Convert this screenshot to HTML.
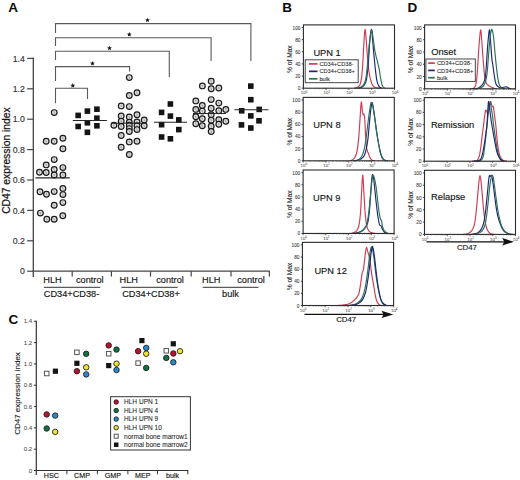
<!DOCTYPE html>
<html><head><meta charset="utf-8"><style>
html,body{margin:0;padding:0;background:#fff;}
svg{display:block;}
text{font-family:"Liberation Sans", sans-serif;}
</style></head><body>
<svg width="520" height="480" viewBox="0 0 520 480">
<rect width="520" height="480" fill="#fff"/>
<text x="8.30" y="12.10" font-size="13.5" text-anchor="start" fill="#0a0a0a" stroke="#0a0a0a" stroke-width="0" font-weight="bold" >A</text>
<line x1="33.30" y1="57.60" x2="33.30" y2="277.00" stroke="#444" stroke-width="1.3"/>
<line x1="32.65" y1="271.20" x2="269.90" y2="271.20" stroke="#444" stroke-width="1.3"/>
<line x1="27.20" y1="271.20" x2="33.30" y2="271.20" stroke="#444" stroke-width="1.2"/>
<text x="24.80" y="274.30" font-size="8.7" text-anchor="end" fill="#333" stroke="#333" stroke-width="0.15" font-weight="normal" >0</text>
<line x1="27.20" y1="240.80" x2="33.30" y2="240.80" stroke="#444" stroke-width="1.2"/>
<text x="24.80" y="243.90" font-size="8.7" text-anchor="end" fill="#333" stroke="#333" stroke-width="0.15" font-weight="normal" >0.2</text>
<line x1="27.20" y1="210.40" x2="33.30" y2="210.40" stroke="#444" stroke-width="1.2"/>
<text x="24.80" y="213.50" font-size="8.7" text-anchor="end" fill="#333" stroke="#333" stroke-width="0.15" font-weight="normal" >0.4</text>
<line x1="27.20" y1="180.00" x2="33.30" y2="180.00" stroke="#444" stroke-width="1.2"/>
<text x="24.80" y="183.10" font-size="8.7" text-anchor="end" fill="#333" stroke="#333" stroke-width="0.15" font-weight="normal" >0.6</text>
<line x1="27.20" y1="149.60" x2="33.30" y2="149.60" stroke="#444" stroke-width="1.2"/>
<text x="24.80" y="152.70" font-size="8.7" text-anchor="end" fill="#333" stroke="#333" stroke-width="0.15" font-weight="normal" >0.8</text>
<line x1="27.20" y1="119.20" x2="33.30" y2="119.20" stroke="#444" stroke-width="1.2"/>
<text x="24.80" y="122.30" font-size="8.7" text-anchor="end" fill="#333" stroke="#333" stroke-width="0.15" font-weight="normal" >1.0</text>
<line x1="27.20" y1="88.80" x2="33.30" y2="88.80" stroke="#444" stroke-width="1.2"/>
<text x="24.80" y="91.90" font-size="8.7" text-anchor="end" fill="#333" stroke="#333" stroke-width="0.15" font-weight="normal" >1.2</text>
<line x1="27.20" y1="58.40" x2="33.30" y2="58.40" stroke="#444" stroke-width="1.2"/>
<text x="24.80" y="61.50" font-size="8.7" text-anchor="end" fill="#333" stroke="#333" stroke-width="0.15" font-weight="normal" >1.4</text>
<line x1="72.20" y1="271.20" x2="72.20" y2="276.60" stroke="#444" stroke-width="1.2"/>
<line x1="111.40" y1="271.20" x2="111.40" y2="276.60" stroke="#444" stroke-width="1.2"/>
<line x1="150.50" y1="271.20" x2="150.50" y2="276.60" stroke="#444" stroke-width="1.2"/>
<line x1="191.20" y1="271.20" x2="191.20" y2="276.60" stroke="#444" stroke-width="1.2"/>
<line x1="231.00" y1="271.20" x2="231.00" y2="276.60" stroke="#444" stroke-width="1.2"/>
<line x1="269.40" y1="271.20" x2="269.40" y2="276.60" stroke="#444" stroke-width="1.2"/>
<text x="0" y="0" font-size="10.3" text-anchor="middle" fill="#141414" stroke="#141414" stroke-width="0.22" transform="translate(9.9,160.6) rotate(-90)">CD47 expression index</text>
<text x="52.50" y="282.60" font-size="9.2" text-anchor="middle" fill="#141414" stroke="#141414" stroke-width="0.15" font-weight="normal" >HLH</text>
<text x="89.80" y="282.60" font-size="9.2" text-anchor="middle" fill="#141414" stroke="#141414" stroke-width="0.15" font-weight="normal" >control</text>
<text x="128.70" y="282.60" font-size="9.2" text-anchor="middle" fill="#141414" stroke="#141414" stroke-width="0.15" font-weight="normal" >HLH</text>
<text x="170.00" y="282.60" font-size="9.2" text-anchor="middle" fill="#141414" stroke="#141414" stroke-width="0.15" font-weight="normal" >control</text>
<text x="211.30" y="282.60" font-size="9.2" text-anchor="middle" fill="#141414" stroke="#141414" stroke-width="0.15" font-weight="normal" >HLH</text>
<text x="251.00" y="282.60" font-size="9.2" text-anchor="middle" fill="#141414" stroke="#141414" stroke-width="0.15" font-weight="normal" >control</text>
<line x1="43.80" y1="287.30" x2="100.20" y2="287.30" stroke="#333" stroke-width="1.0"/>
<text x="71.50" y="296.80" font-size="9.2" text-anchor="middle" fill="#141414" stroke="#141414" stroke-width="0.15" font-weight="normal" >CD34+CD38-</text>
<line x1="121.40" y1="287.30" x2="177.70" y2="287.30" stroke="#333" stroke-width="1.0"/>
<text x="151.00" y="296.80" font-size="9.2" text-anchor="middle" fill="#141414" stroke="#141414" stroke-width="0.15" font-weight="normal" >CD34+CD38+</text>
<line x1="202.70" y1="287.30" x2="258.50" y2="287.30" stroke="#333" stroke-width="1.0"/>
<text x="230.50" y="296.80" font-size="9.2" text-anchor="middle" fill="#141414" stroke="#141414" stroke-width="0.15" font-weight="normal" >bulk</text>
<polyline points="55.50,33.00 55.50,23.60 250.90,23.60 250.90,61.10" fill="none" stroke="#5a5a5a" stroke-width="1.1"/>
<polygon points="147.50,17.65 148.17,19.27 149.93,19.41 148.59,20.55 149.00,22.26 147.50,21.35 146.00,22.26 146.41,20.55 145.07,19.41 146.83,19.27" fill="#1a1a1a"/>
<polyline points="55.50,46.00 55.50,37.70 211.10,37.70 211.10,61.10" fill="none" stroke="#5a5a5a" stroke-width="1.1"/>
<polygon points="129.30,31.95 129.97,33.57 131.73,33.71 130.39,34.85 130.80,36.56 129.30,35.65 127.80,36.56 128.21,34.85 126.87,33.71 128.63,33.57" fill="#1a1a1a"/>
<polyline points="55.50,60.00 55.50,51.30 169.30,51.30 169.30,77.00" fill="none" stroke="#5a5a5a" stroke-width="1.1"/>
<polygon points="109.50,45.65 110.17,47.27 111.93,47.41 110.59,48.55 111.00,50.26 109.50,49.35 108.00,50.26 108.41,48.55 107.07,47.41 108.83,47.27" fill="#1a1a1a"/>
<polyline points="55.50,81.00 55.50,66.60 129.60,66.60 129.60,71.50" fill="none" stroke="#5a5a5a" stroke-width="1.1"/>
<polygon points="92.50,60.95 93.17,62.57 94.93,62.71 93.59,63.85 94.00,65.56 92.50,64.65 91.00,65.56 91.41,63.85 90.07,62.71 91.83,62.57" fill="#1a1a1a"/>
<polyline points="55.50,103.30 55.50,88.30 87.50,88.30 87.50,99.00" fill="none" stroke="#5a5a5a" stroke-width="1.1"/>
<polygon points="72.80,83.05 73.47,84.67 75.23,84.81 73.89,85.95 74.30,87.66 72.80,86.75 71.30,87.66 71.71,85.95 70.37,84.81 72.13,84.67" fill="#1a1a1a"/>
<circle cx="54.20" cy="112.60" r="2.85" fill="#dcdcdc" stroke="#1a1a1a" stroke-width="1.2"/>
<line x1="53.90" y1="111.50" x2="54.50" y2="113.70" stroke="#8a8a8a" stroke-width="0.8"/>
<circle cx="46.20" cy="141.30" r="2.85" fill="#dcdcdc" stroke="#1a1a1a" stroke-width="1.2"/>
<line x1="45.90" y1="140.20" x2="46.50" y2="142.40" stroke="#8a8a8a" stroke-width="0.8"/>
<circle cx="54.20" cy="141.30" r="2.85" fill="#dcdcdc" stroke="#1a1a1a" stroke-width="1.2"/>
<line x1="53.90" y1="140.20" x2="54.50" y2="142.40" stroke="#8a8a8a" stroke-width="0.8"/>
<circle cx="62.90" cy="138.30" r="2.85" fill="#dcdcdc" stroke="#1a1a1a" stroke-width="1.2"/>
<line x1="62.60" y1="137.20" x2="63.20" y2="139.40" stroke="#8a8a8a" stroke-width="0.8"/>
<circle cx="62.90" cy="148.70" r="2.85" fill="#dcdcdc" stroke="#1a1a1a" stroke-width="1.2"/>
<line x1="62.60" y1="147.60" x2="63.20" y2="149.80" stroke="#8a8a8a" stroke-width="0.8"/>
<circle cx="54.20" cy="159.60" r="2.85" fill="#dcdcdc" stroke="#1a1a1a" stroke-width="1.2"/>
<line x1="53.90" y1="158.50" x2="54.50" y2="160.70" stroke="#8a8a8a" stroke-width="0.8"/>
<circle cx="46.20" cy="164.90" r="2.85" fill="#dcdcdc" stroke="#1a1a1a" stroke-width="1.2"/>
<line x1="45.90" y1="163.80" x2="46.50" y2="166.00" stroke="#8a8a8a" stroke-width="0.8"/>
<circle cx="39.50" cy="172.30" r="2.85" fill="#dcdcdc" stroke="#1a1a1a" stroke-width="1.2"/>
<line x1="39.20" y1="171.20" x2="39.80" y2="173.40" stroke="#8a8a8a" stroke-width="0.8"/>
<circle cx="46.20" cy="172.50" r="2.85" fill="#dcdcdc" stroke="#1a1a1a" stroke-width="1.2"/>
<line x1="45.90" y1="171.40" x2="46.50" y2="173.60" stroke="#8a8a8a" stroke-width="0.8"/>
<circle cx="54.20" cy="169.50" r="2.85" fill="#dcdcdc" stroke="#1a1a1a" stroke-width="1.2"/>
<line x1="53.90" y1="168.40" x2="54.50" y2="170.60" stroke="#8a8a8a" stroke-width="0.8"/>
<circle cx="62.90" cy="167.60" r="2.85" fill="#dcdcdc" stroke="#1a1a1a" stroke-width="1.2"/>
<line x1="62.60" y1="166.50" x2="63.20" y2="168.70" stroke="#8a8a8a" stroke-width="0.8"/>
<circle cx="54.20" cy="175.00" r="2.85" fill="#dcdcdc" stroke="#1a1a1a" stroke-width="1.2"/>
<line x1="53.90" y1="173.90" x2="54.50" y2="176.10" stroke="#8a8a8a" stroke-width="0.8"/>
<circle cx="62.90" cy="175.00" r="2.85" fill="#dcdcdc" stroke="#1a1a1a" stroke-width="1.2"/>
<line x1="62.60" y1="173.90" x2="63.20" y2="176.10" stroke="#8a8a8a" stroke-width="0.8"/>
<circle cx="40.00" cy="191.80" r="2.85" fill="#dcdcdc" stroke="#1a1a1a" stroke-width="1.2"/>
<line x1="39.70" y1="190.70" x2="40.30" y2="192.90" stroke="#8a8a8a" stroke-width="0.8"/>
<circle cx="46.50" cy="194.30" r="2.85" fill="#dcdcdc" stroke="#1a1a1a" stroke-width="1.2"/>
<line x1="46.20" y1="193.20" x2="46.80" y2="195.40" stroke="#8a8a8a" stroke-width="0.8"/>
<circle cx="54.20" cy="191.60" r="2.85" fill="#dcdcdc" stroke="#1a1a1a" stroke-width="1.2"/>
<line x1="53.90" y1="190.50" x2="54.50" y2="192.70" stroke="#8a8a8a" stroke-width="0.8"/>
<circle cx="62.90" cy="188.40" r="2.85" fill="#dcdcdc" stroke="#1a1a1a" stroke-width="1.2"/>
<line x1="62.60" y1="187.30" x2="63.20" y2="189.50" stroke="#8a8a8a" stroke-width="0.8"/>
<circle cx="62.90" cy="194.60" r="2.85" fill="#dcdcdc" stroke="#1a1a1a" stroke-width="1.2"/>
<line x1="62.60" y1="193.50" x2="63.20" y2="195.70" stroke="#8a8a8a" stroke-width="0.8"/>
<circle cx="54.20" cy="205.30" r="2.85" fill="#dcdcdc" stroke="#1a1a1a" stroke-width="1.2"/>
<line x1="53.90" y1="204.20" x2="54.50" y2="206.40" stroke="#8a8a8a" stroke-width="0.8"/>
<circle cx="62.90" cy="202.60" r="2.85" fill="#dcdcdc" stroke="#1a1a1a" stroke-width="1.2"/>
<line x1="62.60" y1="201.50" x2="63.20" y2="203.70" stroke="#8a8a8a" stroke-width="0.8"/>
<circle cx="40.40" cy="213.10" r="2.85" fill="#dcdcdc" stroke="#1a1a1a" stroke-width="1.2"/>
<line x1="40.10" y1="212.00" x2="40.70" y2="214.20" stroke="#8a8a8a" stroke-width="0.8"/>
<circle cx="46.80" cy="219.30" r="2.85" fill="#dcdcdc" stroke="#1a1a1a" stroke-width="1.2"/>
<line x1="46.50" y1="218.20" x2="47.10" y2="220.40" stroke="#8a8a8a" stroke-width="0.8"/>
<circle cx="54.20" cy="219.30" r="2.85" fill="#dcdcdc" stroke="#1a1a1a" stroke-width="1.2"/>
<line x1="53.90" y1="218.20" x2="54.50" y2="220.40" stroke="#8a8a8a" stroke-width="0.8"/>
<circle cx="62.80" cy="215.80" r="2.85" fill="#dcdcdc" stroke="#1a1a1a" stroke-width="1.2"/>
<line x1="62.50" y1="214.70" x2="63.10" y2="216.90" stroke="#8a8a8a" stroke-width="0.8"/>
<circle cx="129.30" cy="77.60" r="2.85" fill="#dcdcdc" stroke="#1a1a1a" stroke-width="1.2"/>
<line x1="129.00" y1="76.50" x2="129.60" y2="78.70" stroke="#8a8a8a" stroke-width="0.8"/>
<circle cx="129.30" cy="95.50" r="2.85" fill="#dcdcdc" stroke="#1a1a1a" stroke-width="1.2"/>
<line x1="129.00" y1="94.40" x2="129.60" y2="96.60" stroke="#8a8a8a" stroke-width="0.8"/>
<circle cx="137.00" cy="92.70" r="2.85" fill="#dcdcdc" stroke="#1a1a1a" stroke-width="1.2"/>
<line x1="136.70" y1="91.60" x2="137.30" y2="93.80" stroke="#8a8a8a" stroke-width="0.8"/>
<circle cx="121.20" cy="105.90" r="2.85" fill="#dcdcdc" stroke="#1a1a1a" stroke-width="1.2"/>
<line x1="120.90" y1="104.80" x2="121.50" y2="107.00" stroke="#8a8a8a" stroke-width="0.8"/>
<circle cx="129.30" cy="106.60" r="2.85" fill="#dcdcdc" stroke="#1a1a1a" stroke-width="1.2"/>
<line x1="129.00" y1="105.50" x2="129.60" y2="107.70" stroke="#8a8a8a" stroke-width="0.8"/>
<circle cx="121.20" cy="116.00" r="2.85" fill="#dcdcdc" stroke="#1a1a1a" stroke-width="1.2"/>
<line x1="120.90" y1="114.90" x2="121.50" y2="117.10" stroke="#8a8a8a" stroke-width="0.8"/>
<circle cx="129.30" cy="117.00" r="2.85" fill="#dcdcdc" stroke="#1a1a1a" stroke-width="1.2"/>
<line x1="129.00" y1="115.90" x2="129.60" y2="118.10" stroke="#8a8a8a" stroke-width="0.8"/>
<circle cx="137.00" cy="114.80" r="2.85" fill="#dcdcdc" stroke="#1a1a1a" stroke-width="1.2"/>
<line x1="136.70" y1="113.70" x2="137.30" y2="115.90" stroke="#8a8a8a" stroke-width="0.8"/>
<circle cx="144.20" cy="120.00" r="2.85" fill="#dcdcdc" stroke="#1a1a1a" stroke-width="1.2"/>
<line x1="143.90" y1="118.90" x2="144.50" y2="121.10" stroke="#8a8a8a" stroke-width="0.8"/>
<circle cx="121.20" cy="121.20" r="2.85" fill="#dcdcdc" stroke="#1a1a1a" stroke-width="1.2"/>
<line x1="120.90" y1="120.10" x2="121.50" y2="122.30" stroke="#8a8a8a" stroke-width="0.8"/>
<circle cx="129.30" cy="122.20" r="2.85" fill="#dcdcdc" stroke="#1a1a1a" stroke-width="1.2"/>
<line x1="129.00" y1="121.10" x2="129.60" y2="123.30" stroke="#8a8a8a" stroke-width="0.8"/>
<circle cx="137.00" cy="121.90" r="2.85" fill="#dcdcdc" stroke="#1a1a1a" stroke-width="1.2"/>
<line x1="136.70" y1="120.80" x2="137.30" y2="123.00" stroke="#8a8a8a" stroke-width="0.8"/>
<circle cx="113.90" cy="125.30" r="2.85" fill="#dcdcdc" stroke="#1a1a1a" stroke-width="1.2"/>
<line x1="113.60" y1="124.20" x2="114.20" y2="126.40" stroke="#8a8a8a" stroke-width="0.8"/>
<circle cx="121.20" cy="126.50" r="2.85" fill="#dcdcdc" stroke="#1a1a1a" stroke-width="1.2"/>
<line x1="120.90" y1="125.40" x2="121.50" y2="127.60" stroke="#8a8a8a" stroke-width="0.8"/>
<circle cx="129.30" cy="125.30" r="2.85" fill="#dcdcdc" stroke="#1a1a1a" stroke-width="1.2"/>
<line x1="129.00" y1="124.20" x2="129.60" y2="126.40" stroke="#8a8a8a" stroke-width="0.8"/>
<circle cx="137.00" cy="125.80" r="2.85" fill="#dcdcdc" stroke="#1a1a1a" stroke-width="1.2"/>
<line x1="136.70" y1="124.70" x2="137.30" y2="126.90" stroke="#8a8a8a" stroke-width="0.8"/>
<circle cx="144.20" cy="125.80" r="2.85" fill="#dcdcdc" stroke="#1a1a1a" stroke-width="1.2"/>
<line x1="143.90" y1="124.70" x2="144.50" y2="126.90" stroke="#8a8a8a" stroke-width="0.8"/>
<circle cx="129.30" cy="128.60" r="2.85" fill="#dcdcdc" stroke="#1a1a1a" stroke-width="1.2"/>
<line x1="129.00" y1="127.50" x2="129.60" y2="129.70" stroke="#8a8a8a" stroke-width="0.8"/>
<circle cx="137.00" cy="129.60" r="2.85" fill="#dcdcdc" stroke="#1a1a1a" stroke-width="1.2"/>
<line x1="136.70" y1="128.50" x2="137.30" y2="130.70" stroke="#8a8a8a" stroke-width="0.8"/>
<circle cx="129.30" cy="131.50" r="2.85" fill="#dcdcdc" stroke="#1a1a1a" stroke-width="1.2"/>
<line x1="129.00" y1="130.40" x2="129.60" y2="132.60" stroke="#8a8a8a" stroke-width="0.8"/>
<circle cx="121.20" cy="135.50" r="2.85" fill="#dcdcdc" stroke="#1a1a1a" stroke-width="1.2"/>
<line x1="120.90" y1="134.40" x2="121.50" y2="136.60" stroke="#8a8a8a" stroke-width="0.8"/>
<circle cx="129.30" cy="141.90" r="2.85" fill="#dcdcdc" stroke="#1a1a1a" stroke-width="1.2"/>
<line x1="129.00" y1="140.80" x2="129.60" y2="143.00" stroke="#8a8a8a" stroke-width="0.8"/>
<circle cx="137.00" cy="141.20" r="2.85" fill="#dcdcdc" stroke="#1a1a1a" stroke-width="1.2"/>
<line x1="136.70" y1="140.10" x2="137.30" y2="142.30" stroke="#8a8a8a" stroke-width="0.8"/>
<circle cx="121.20" cy="147.30" r="2.85" fill="#dcdcdc" stroke="#1a1a1a" stroke-width="1.2"/>
<line x1="120.90" y1="146.20" x2="121.50" y2="148.40" stroke="#8a8a8a" stroke-width="0.8"/>
<circle cx="129.30" cy="154.50" r="2.85" fill="#dcdcdc" stroke="#1a1a1a" stroke-width="1.2"/>
<line x1="129.00" y1="153.40" x2="129.60" y2="155.60" stroke="#8a8a8a" stroke-width="0.8"/>
<circle cx="211.20" cy="81.30" r="2.85" fill="#dcdcdc" stroke="#1a1a1a" stroke-width="1.2"/>
<line x1="210.90" y1="80.20" x2="211.50" y2="82.40" stroke="#8a8a8a" stroke-width="0.8"/>
<circle cx="202.40" cy="85.90" r="2.85" fill="#dcdcdc" stroke="#1a1a1a" stroke-width="1.2"/>
<line x1="202.10" y1="84.80" x2="202.70" y2="87.00" stroke="#8a8a8a" stroke-width="0.8"/>
<circle cx="211.20" cy="88.80" r="2.85" fill="#dcdcdc" stroke="#1a1a1a" stroke-width="1.2"/>
<line x1="210.90" y1="87.70" x2="211.50" y2="89.90" stroke="#8a8a8a" stroke-width="0.8"/>
<circle cx="218.80" cy="88.00" r="2.85" fill="#dcdcdc" stroke="#1a1a1a" stroke-width="1.2"/>
<line x1="218.50" y1="86.90" x2="219.10" y2="89.10" stroke="#8a8a8a" stroke-width="0.8"/>
<circle cx="195.80" cy="100.90" r="2.85" fill="#dcdcdc" stroke="#1a1a1a" stroke-width="1.2"/>
<line x1="195.50" y1="99.80" x2="196.10" y2="102.00" stroke="#8a8a8a" stroke-width="0.8"/>
<circle cx="211.20" cy="99.60" r="2.85" fill="#dcdcdc" stroke="#1a1a1a" stroke-width="1.2"/>
<line x1="210.90" y1="98.50" x2="211.50" y2="100.70" stroke="#8a8a8a" stroke-width="0.8"/>
<circle cx="218.80" cy="103.10" r="2.85" fill="#dcdcdc" stroke="#1a1a1a" stroke-width="1.2"/>
<line x1="218.50" y1="102.00" x2="219.10" y2="104.20" stroke="#8a8a8a" stroke-width="0.8"/>
<circle cx="202.30" cy="105.50" r="2.85" fill="#dcdcdc" stroke="#1a1a1a" stroke-width="1.2"/>
<line x1="202.00" y1="104.40" x2="202.60" y2="106.60" stroke="#8a8a8a" stroke-width="0.8"/>
<circle cx="195.80" cy="109.40" r="2.85" fill="#dcdcdc" stroke="#1a1a1a" stroke-width="1.2"/>
<line x1="195.50" y1="108.30" x2="196.10" y2="110.50" stroke="#8a8a8a" stroke-width="0.8"/>
<circle cx="202.30" cy="111.10" r="2.85" fill="#dcdcdc" stroke="#1a1a1a" stroke-width="1.2"/>
<line x1="202.00" y1="110.00" x2="202.60" y2="112.20" stroke="#8a8a8a" stroke-width="0.8"/>
<circle cx="211.20" cy="108.20" r="2.85" fill="#dcdcdc" stroke="#1a1a1a" stroke-width="1.2"/>
<line x1="210.90" y1="107.10" x2="211.50" y2="109.30" stroke="#8a8a8a" stroke-width="0.8"/>
<circle cx="218.80" cy="110.80" r="2.85" fill="#dcdcdc" stroke="#1a1a1a" stroke-width="1.2"/>
<line x1="218.50" y1="109.70" x2="219.10" y2="111.90" stroke="#8a8a8a" stroke-width="0.8"/>
<circle cx="225.80" cy="109.40" r="2.85" fill="#dcdcdc" stroke="#1a1a1a" stroke-width="1.2"/>
<line x1="225.50" y1="108.30" x2="226.10" y2="110.50" stroke="#8a8a8a" stroke-width="0.8"/>
<circle cx="195.80" cy="116.80" r="2.85" fill="#dcdcdc" stroke="#1a1a1a" stroke-width="1.2"/>
<line x1="195.50" y1="115.70" x2="196.10" y2="117.90" stroke="#8a8a8a" stroke-width="0.8"/>
<circle cx="202.30" cy="118.80" r="2.85" fill="#dcdcdc" stroke="#1a1a1a" stroke-width="1.2"/>
<line x1="202.00" y1="117.70" x2="202.60" y2="119.90" stroke="#8a8a8a" stroke-width="0.8"/>
<circle cx="211.20" cy="114.70" r="2.85" fill="#dcdcdc" stroke="#1a1a1a" stroke-width="1.2"/>
<line x1="210.90" y1="113.60" x2="211.50" y2="115.80" stroke="#8a8a8a" stroke-width="0.8"/>
<circle cx="211.20" cy="120.30" r="2.85" fill="#dcdcdc" stroke="#1a1a1a" stroke-width="1.2"/>
<line x1="210.90" y1="119.20" x2="211.50" y2="121.40" stroke="#8a8a8a" stroke-width="0.8"/>
<circle cx="218.80" cy="119.70" r="2.85" fill="#dcdcdc" stroke="#1a1a1a" stroke-width="1.2"/>
<line x1="218.50" y1="118.60" x2="219.10" y2="120.80" stroke="#8a8a8a" stroke-width="0.8"/>
<circle cx="225.80" cy="121.30" r="2.85" fill="#dcdcdc" stroke="#1a1a1a" stroke-width="1.2"/>
<line x1="225.50" y1="120.20" x2="226.10" y2="122.40" stroke="#8a8a8a" stroke-width="0.8"/>
<circle cx="218.80" cy="124.30" r="2.85" fill="#dcdcdc" stroke="#1a1a1a" stroke-width="1.2"/>
<line x1="218.50" y1="123.20" x2="219.10" y2="125.40" stroke="#8a8a8a" stroke-width="0.8"/>
<circle cx="195.80" cy="123.70" r="2.85" fill="#dcdcdc" stroke="#1a1a1a" stroke-width="1.2"/>
<line x1="195.50" y1="122.60" x2="196.10" y2="124.80" stroke="#8a8a8a" stroke-width="0.8"/>
<circle cx="202.30" cy="125.80" r="2.85" fill="#dcdcdc" stroke="#1a1a1a" stroke-width="1.2"/>
<line x1="202.00" y1="124.70" x2="202.60" y2="126.90" stroke="#8a8a8a" stroke-width="0.8"/>
<circle cx="211.20" cy="126.20" r="2.85" fill="#dcdcdc" stroke="#1a1a1a" stroke-width="1.2"/>
<line x1="210.90" y1="125.10" x2="211.50" y2="127.30" stroke="#8a8a8a" stroke-width="0.8"/>
<circle cx="211.20" cy="131.50" r="2.85" fill="#dcdcdc" stroke="#1a1a1a" stroke-width="1.2"/>
<line x1="210.90" y1="130.40" x2="211.50" y2="132.60" stroke="#8a8a8a" stroke-width="0.8"/>
<rect x="75.35" y="112.60" width="5.6" height="5.6" fill="#141414"/>
<rect x="84.60" y="108.30" width="5.6" height="5.6" fill="#141414"/>
<rect x="94.10" y="106.40" width="5.6" height="5.6" fill="#141414"/>
<rect x="94.10" y="115.40" width="5.6" height="5.6" fill="#141414"/>
<rect x="84.60" y="120.00" width="5.6" height="5.6" fill="#141414"/>
<rect x="75.35" y="123.70" width="5.6" height="5.6" fill="#141414"/>
<rect x="94.10" y="123.00" width="5.6" height="5.6" fill="#141414"/>
<rect x="84.60" y="129.50" width="5.6" height="5.6" fill="#141414"/>
<rect x="167.60" y="101.20" width="5.6" height="5.6" fill="#141414"/>
<rect x="158.80" y="109.60" width="5.6" height="5.6" fill="#141414"/>
<rect x="167.60" y="113.30" width="5.6" height="5.6" fill="#141414"/>
<rect x="176.00" y="117.10" width="5.6" height="5.6" fill="#141414"/>
<rect x="158.80" y="121.90" width="5.6" height="5.6" fill="#141414"/>
<rect x="176.00" y="126.80" width="5.6" height="5.6" fill="#141414"/>
<rect x="158.80" y="134.20" width="5.6" height="5.6" fill="#141414"/>
<rect x="167.60" y="136.00" width="5.6" height="5.6" fill="#141414"/>
<rect x="248.00" y="83.30" width="5.6" height="5.6" fill="#141414"/>
<rect x="248.00" y="96.90" width="5.6" height="5.6" fill="#141414"/>
<rect x="238.90" y="108.00" width="5.6" height="5.6" fill="#141414"/>
<rect x="256.40" y="106.60" width="5.6" height="5.6" fill="#141414"/>
<rect x="248.00" y="113.10" width="5.6" height="5.6" fill="#141414"/>
<rect x="256.20" y="118.00" width="5.6" height="5.6" fill="#141414"/>
<rect x="238.70" y="122.10" width="5.6" height="5.6" fill="#141414"/>
<rect x="248.00" y="125.20" width="5.6" height="5.6" fill="#141414"/>
<line x1="35.40" y1="177.80" x2="69.70" y2="177.80" stroke="#262626" stroke-width="1.15"/>
<line x1="72.80" y1="120.50" x2="106.90" y2="120.50" stroke="#262626" stroke-width="1.15"/>
<line x1="111.20" y1="123.20" x2="146.20" y2="123.20" stroke="#262626" stroke-width="1.15"/>
<line x1="153.90" y1="122.20" x2="187.00" y2="122.20" stroke="#262626" stroke-width="1.15"/>
<line x1="193.00" y1="113.50" x2="226.00" y2="113.50" stroke="#262626" stroke-width="1.15"/>
<line x1="234.40" y1="109.70" x2="268.50" y2="109.70" stroke="#262626" stroke-width="1.15"/>
<path d="M354.00,88.20 C354.58,88.05 356.50,87.91 357.50,87.32 C358.50,86.73 359.33,86.19 360.00,84.67 C360.67,83.15 361.03,81.72 361.50,78.19 C361.97,74.66 362.38,69.65 362.80,63.47 C363.22,57.29 363.62,46.79 364.00,41.10 C364.38,35.41 364.73,29.52 365.10,29.32 C365.47,29.12 365.80,35.21 366.20,39.92 C366.60,44.63 367.03,52.28 367.50,57.58 C367.97,62.88 368.48,67.98 369.00,71.71 C369.52,75.44 369.93,77.60 370.60,79.96 C371.27,82.31 371.97,84.52 373.00,85.84 C374.03,87.17 375.63,87.51 376.80,87.91 C377.97,88.30 379.47,88.15 380.00,88.20" fill="none" stroke="#d03a52" stroke-width="1.15" stroke-linejoin="round"/>
<path d="M359.00,88.20 C359.50,88.00 361.08,87.61 362.00,87.02 C362.92,86.43 363.75,85.94 364.50,84.67 C365.25,83.39 365.87,82.90 366.50,79.37 C367.13,75.84 367.75,69.85 368.30,63.47 C368.85,57.09 369.30,46.79 369.80,41.10 C370.30,35.41 370.83,29.52 371.30,29.32 C371.77,29.12 372.15,35.50 372.60,39.92 C373.05,44.34 373.52,50.71 374.00,55.82 C374.48,60.92 375.00,66.32 375.50,70.54 C376.00,74.76 376.42,78.48 377.00,81.13 C377.58,83.78 378.17,85.26 379.00,86.43 C379.83,87.61 381.50,87.91 382.00,88.20" fill="none" stroke="#1f2675" stroke-width="1.15" stroke-linejoin="round"/>
<path d="M357.00,88.20 C357.67,88.00 359.83,87.71 361.00,87.02 C362.17,86.34 363.17,85.65 364.00,84.08 C364.83,82.51 365.40,81.04 366.00,77.60 C366.60,74.17 367.02,69.36 367.60,63.47 C368.18,57.58 368.83,47.87 369.50,42.27 C370.17,36.68 370.98,30.50 371.60,29.91 C372.22,29.32 372.63,35.11 373.20,38.74 C373.77,42.37 374.37,48.16 375.00,51.70 C375.63,55.23 376.33,57.19 377.00,59.94 C377.67,62.69 378.42,65.24 379.00,68.18 C379.58,71.13 380.03,74.95 380.50,77.60 C380.97,80.25 381.35,82.51 381.80,84.08 C382.25,85.65 382.67,86.34 383.20,87.02 C383.73,87.71 384.70,88.00 385.00,88.20" fill="none" stroke="#2b7154" stroke-width="1.15" stroke-linejoin="round"/>
<rect x="303.40" y="24.90" width="91.10" height="63.30" fill="none" stroke="#2a2a2a" stroke-width="1.1"/>
<line x1="301.80" y1="88.20" x2="303.40" y2="88.20" stroke="#333" stroke-width="0.9"/>
<text x="300.50" y="90.20" font-size="4.75" text-anchor="end" fill="#3a3a3a" stroke="#3a3a3a" stroke-width="0.08" font-weight="normal" >0</text>
<line x1="301.80" y1="76.06" x2="303.40" y2="76.06" stroke="#333" stroke-width="0.9"/>
<text x="300.50" y="78.06" font-size="4.75" text-anchor="end" fill="#3a3a3a" stroke="#3a3a3a" stroke-width="0.08" font-weight="normal" >20</text>
<line x1="301.80" y1="63.92" x2="303.40" y2="63.92" stroke="#333" stroke-width="0.9"/>
<text x="300.50" y="65.92" font-size="4.75" text-anchor="end" fill="#3a3a3a" stroke="#3a3a3a" stroke-width="0.08" font-weight="normal" >40</text>
<line x1="301.80" y1="51.78" x2="303.40" y2="51.78" stroke="#333" stroke-width="0.9"/>
<text x="300.50" y="53.78" font-size="4.75" text-anchor="end" fill="#3a3a3a" stroke="#3a3a3a" stroke-width="0.08" font-weight="normal" >60</text>
<line x1="301.80" y1="39.64" x2="303.40" y2="39.64" stroke="#333" stroke-width="0.9"/>
<text x="300.50" y="41.64" font-size="4.75" text-anchor="end" fill="#3a3a3a" stroke="#3a3a3a" stroke-width="0.08" font-weight="normal" >80</text>
<line x1="301.80" y1="27.50" x2="303.40" y2="27.50" stroke="#333" stroke-width="0.9"/>
<text x="300.50" y="29.50" font-size="4.75" text-anchor="end" fill="#3a3a3a" stroke="#3a3a3a" stroke-width="0.08" font-weight="normal" >100</text>
<line x1="310.26" y1="88.20" x2="310.26" y2="89.20" stroke="#444" stroke-width="0.6"/>
<line x1="314.27" y1="88.20" x2="314.27" y2="89.20" stroke="#444" stroke-width="0.6"/>
<line x1="317.11" y1="88.20" x2="317.11" y2="89.20" stroke="#444" stroke-width="0.6"/>
<line x1="319.32" y1="88.20" x2="319.32" y2="89.20" stroke="#444" stroke-width="0.6"/>
<line x1="321.12" y1="88.20" x2="321.12" y2="89.20" stroke="#444" stroke-width="0.6"/>
<line x1="322.65" y1="88.20" x2="322.65" y2="89.20" stroke="#444" stroke-width="0.6"/>
<line x1="323.97" y1="88.20" x2="323.97" y2="89.20" stroke="#444" stroke-width="0.6"/>
<line x1="325.13" y1="88.20" x2="325.13" y2="89.20" stroke="#444" stroke-width="0.6"/>
<line x1="333.03" y1="88.20" x2="333.03" y2="89.20" stroke="#444" stroke-width="0.6"/>
<line x1="337.04" y1="88.20" x2="337.04" y2="89.20" stroke="#444" stroke-width="0.6"/>
<line x1="339.89" y1="88.20" x2="339.89" y2="89.20" stroke="#444" stroke-width="0.6"/>
<line x1="342.09" y1="88.20" x2="342.09" y2="89.20" stroke="#444" stroke-width="0.6"/>
<line x1="343.90" y1="88.20" x2="343.90" y2="89.20" stroke="#444" stroke-width="0.6"/>
<line x1="345.42" y1="88.20" x2="345.42" y2="89.20" stroke="#444" stroke-width="0.6"/>
<line x1="346.74" y1="88.20" x2="346.74" y2="89.20" stroke="#444" stroke-width="0.6"/>
<line x1="347.91" y1="88.20" x2="347.91" y2="89.20" stroke="#444" stroke-width="0.6"/>
<line x1="355.81" y1="88.20" x2="355.81" y2="89.20" stroke="#444" stroke-width="0.6"/>
<line x1="359.82" y1="88.20" x2="359.82" y2="89.20" stroke="#444" stroke-width="0.6"/>
<line x1="362.66" y1="88.20" x2="362.66" y2="89.20" stroke="#444" stroke-width="0.6"/>
<line x1="364.87" y1="88.20" x2="364.87" y2="89.20" stroke="#444" stroke-width="0.6"/>
<line x1="366.67" y1="88.20" x2="366.67" y2="89.20" stroke="#444" stroke-width="0.6"/>
<line x1="368.20" y1="88.20" x2="368.20" y2="89.20" stroke="#444" stroke-width="0.6"/>
<line x1="369.52" y1="88.20" x2="369.52" y2="89.20" stroke="#444" stroke-width="0.6"/>
<line x1="370.68" y1="88.20" x2="370.68" y2="89.20" stroke="#444" stroke-width="0.6"/>
<line x1="378.58" y1="88.20" x2="378.58" y2="89.20" stroke="#444" stroke-width="0.6"/>
<line x1="382.59" y1="88.20" x2="382.59" y2="89.20" stroke="#444" stroke-width="0.6"/>
<line x1="385.44" y1="88.20" x2="385.44" y2="89.20" stroke="#444" stroke-width="0.6"/>
<line x1="387.64" y1="88.20" x2="387.64" y2="89.20" stroke="#444" stroke-width="0.6"/>
<line x1="389.45" y1="88.20" x2="389.45" y2="89.20" stroke="#444" stroke-width="0.6"/>
<line x1="390.97" y1="88.20" x2="390.97" y2="89.20" stroke="#444" stroke-width="0.6"/>
<line x1="392.29" y1="88.20" x2="392.29" y2="89.20" stroke="#444" stroke-width="0.6"/>
<line x1="393.46" y1="88.20" x2="393.46" y2="89.20" stroke="#444" stroke-width="0.6"/>
<line x1="303.40" y1="88.20" x2="303.40" y2="90.00" stroke="#333" stroke-width="0.8"/>
<text x="304.00" y="94.40" font-size="4.4" text-anchor="middle" fill="#555" stroke="#555" stroke-width="0.05" font-weight="normal" >10<tspan font-size="2.8" dy="-1.6">0</tspan></text>
<line x1="326.17" y1="88.20" x2="326.17" y2="90.00" stroke="#333" stroke-width="0.8"/>
<text x="326.77" y="94.40" font-size="4.4" text-anchor="middle" fill="#555" stroke="#555" stroke-width="0.05" font-weight="normal" >10<tspan font-size="2.8" dy="-1.6">1</tspan></text>
<line x1="348.95" y1="88.20" x2="348.95" y2="90.00" stroke="#333" stroke-width="0.8"/>
<text x="349.55" y="94.40" font-size="4.4" text-anchor="middle" fill="#555" stroke="#555" stroke-width="0.05" font-weight="normal" >10<tspan font-size="2.8" dy="-1.6">2</tspan></text>
<line x1="371.73" y1="88.20" x2="371.73" y2="90.00" stroke="#333" stroke-width="0.8"/>
<text x="372.33" y="94.40" font-size="4.4" text-anchor="middle" fill="#555" stroke="#555" stroke-width="0.05" font-weight="normal" >10<tspan font-size="2.8" dy="-1.6">3</tspan></text>
<line x1="394.50" y1="88.20" x2="394.50" y2="90.00" stroke="#333" stroke-width="0.8"/>
<text x="395.10" y="94.40" font-size="4.4" text-anchor="middle" fill="#555" stroke="#555" stroke-width="0.05" font-weight="normal" >10<tspan font-size="2.8" dy="-1.6">4</tspan></text>
<text x="0" y="0" font-size="6.6" text-anchor="middle" fill="#222" stroke="#222" stroke-width="0.08" transform="translate(292.10,59.15) rotate(-90)">% of Max</text>
<text x="313.40" y="55.50" font-size="9.3" text-anchor="start" fill="#141414" stroke="#141414" stroke-width="0.15" font-weight="normal" >UPN 1</text>
<rect x="305.20" y="59.80" width="53.00" height="22.90" fill="#fff" stroke="#333" stroke-width="0.9"/>
<line x1="309.00" y1="63.90" x2="317.50" y2="63.90" stroke="#d03a52" stroke-width="1.7"/>
<text x="319.40" y="66.00" font-size="5.65" text-anchor="start" fill="#262626" stroke="#262626" stroke-width="0.08" font-weight="normal" >CD34+CD38-</text>
<line x1="309.00" y1="71.35" x2="317.50" y2="71.35" stroke="#1f2675" stroke-width="1.7"/>
<text x="319.40" y="73.45" font-size="5.65" text-anchor="start" fill="#262626" stroke="#262626" stroke-width="0.08" font-weight="normal" >CD34+CD38+</text>
<line x1="309.00" y1="78.80" x2="317.50" y2="78.80" stroke="#2b7154" stroke-width="1.7"/>
<text x="319.40" y="80.90" font-size="5.65" text-anchor="start" fill="#262626" stroke="#262626" stroke-width="0.08" font-weight="normal" >bulk</text>
<path d="M350.00,160.80 C350.42,160.65 351.67,160.51 352.50,159.92 C353.33,159.33 354.25,158.69 355.00,157.26 C355.75,155.84 356.42,154.21 357.00,151.36 C357.58,148.51 358.03,144.97 358.50,140.16 C358.97,135.34 359.38,128.46 359.80,122.47 C360.22,116.47 360.70,107.43 361.00,104.18 C361.30,100.94 361.37,101.82 361.60,103.00 C361.83,104.18 362.13,109.29 362.40,111.26 C362.67,113.23 362.93,114.31 363.20,114.80 C363.47,115.29 363.73,113.42 364.00,114.21 C364.27,115.00 364.55,116.17 364.80,119.52 C365.05,122.86 365.25,129.84 365.50,134.26 C365.75,138.68 365.97,143.21 366.30,146.06 C366.63,148.91 367.13,150.09 367.50,151.36 C367.87,152.64 368.08,152.64 368.50,153.72 C368.92,154.80 369.42,156.77 370.00,157.85 C370.58,158.93 371.17,159.72 372.00,160.21 C372.83,160.70 374.50,160.70 375.00,160.80" fill="none" stroke="#d03a52" stroke-width="1.15" stroke-linejoin="round"/>
<path d="M353.00,160.80 C353.67,160.70 355.67,160.51 357.00,160.21 C358.33,159.92 359.83,159.72 361.00,159.03 C362.17,158.34 363.17,157.56 364.00,156.08 C364.83,154.61 365.33,153.13 366.00,150.18 C366.67,147.24 367.33,143.99 368.00,138.39 C368.67,132.79 369.35,122.47 370.00,116.57 C370.65,110.67 371.35,104.48 371.90,103.00 C372.45,101.53 372.78,104.97 373.30,107.72 C373.82,110.47 374.38,115.09 375.00,119.52 C375.62,123.94 376.33,129.84 377.00,134.26 C377.67,138.68 378.33,142.62 379.00,146.06 C379.67,149.50 380.33,152.74 381.00,154.90 C381.67,157.06 382.17,158.05 383.00,159.03 C383.83,160.01 385.50,160.51 386.00,160.80" fill="none" stroke="#1f2675" stroke-width="1.15" stroke-linejoin="round"/>
<path d="M355.00,160.80 C355.58,160.60 357.42,160.31 358.50,159.62 C359.58,158.93 360.58,158.24 361.50,156.67 C362.42,155.10 363.25,153.13 364.00,150.18 C364.75,147.24 365.33,143.60 366.00,138.98 C366.67,134.36 367.33,127.68 368.00,122.47 C368.67,117.26 369.47,111.06 370.00,107.72 C370.53,104.38 370.77,102.91 371.20,102.41 C371.63,101.92 372.05,102.41 372.60,104.77 C373.15,107.13 373.85,112.14 374.50,116.57 C375.15,120.99 375.83,126.89 376.50,131.31 C377.17,135.74 377.83,139.57 378.50,143.11 C379.17,146.65 379.83,150.09 380.50,152.54 C381.17,155.00 381.75,156.57 382.50,157.85 C383.25,159.13 384.08,159.72 385.00,160.21 C385.92,160.70 387.50,160.70 388.00,160.80" fill="none" stroke="#2b7154" stroke-width="1.15" stroke-linejoin="round"/>
<rect x="303.20" y="97.40" width="91.10" height="63.40" fill="none" stroke="#2a2a2a" stroke-width="1.1"/>
<line x1="301.60" y1="160.80" x2="303.20" y2="160.80" stroke="#333" stroke-width="0.9"/>
<text x="300.30" y="162.80" font-size="4.75" text-anchor="end" fill="#3a3a3a" stroke="#3a3a3a" stroke-width="0.08" font-weight="normal" >0</text>
<line x1="301.60" y1="148.64" x2="303.20" y2="148.64" stroke="#333" stroke-width="0.9"/>
<text x="300.30" y="150.64" font-size="4.75" text-anchor="end" fill="#3a3a3a" stroke="#3a3a3a" stroke-width="0.08" font-weight="normal" >20</text>
<line x1="301.60" y1="136.48" x2="303.20" y2="136.48" stroke="#333" stroke-width="0.9"/>
<text x="300.30" y="138.48" font-size="4.75" text-anchor="end" fill="#3a3a3a" stroke="#3a3a3a" stroke-width="0.08" font-weight="normal" >40</text>
<line x1="301.60" y1="124.32" x2="303.20" y2="124.32" stroke="#333" stroke-width="0.9"/>
<text x="300.30" y="126.32" font-size="4.75" text-anchor="end" fill="#3a3a3a" stroke="#3a3a3a" stroke-width="0.08" font-weight="normal" >60</text>
<line x1="301.60" y1="112.16" x2="303.20" y2="112.16" stroke="#333" stroke-width="0.9"/>
<text x="300.30" y="114.16" font-size="4.75" text-anchor="end" fill="#3a3a3a" stroke="#3a3a3a" stroke-width="0.08" font-weight="normal" >80</text>
<line x1="301.60" y1="100.00" x2="303.20" y2="100.00" stroke="#333" stroke-width="0.9"/>
<text x="300.30" y="102.00" font-size="4.75" text-anchor="end" fill="#3a3a3a" stroke="#3a3a3a" stroke-width="0.08" font-weight="normal" >100</text>
<line x1="310.06" y1="160.80" x2="310.06" y2="161.80" stroke="#444" stroke-width="0.6"/>
<line x1="314.07" y1="160.80" x2="314.07" y2="161.80" stroke="#444" stroke-width="0.6"/>
<line x1="316.91" y1="160.80" x2="316.91" y2="161.80" stroke="#444" stroke-width="0.6"/>
<line x1="319.12" y1="160.80" x2="319.12" y2="161.80" stroke="#444" stroke-width="0.6"/>
<line x1="320.92" y1="160.80" x2="320.92" y2="161.80" stroke="#444" stroke-width="0.6"/>
<line x1="322.45" y1="160.80" x2="322.45" y2="161.80" stroke="#444" stroke-width="0.6"/>
<line x1="323.77" y1="160.80" x2="323.77" y2="161.80" stroke="#444" stroke-width="0.6"/>
<line x1="324.93" y1="160.80" x2="324.93" y2="161.80" stroke="#444" stroke-width="0.6"/>
<line x1="332.83" y1="160.80" x2="332.83" y2="161.80" stroke="#444" stroke-width="0.6"/>
<line x1="336.84" y1="160.80" x2="336.84" y2="161.80" stroke="#444" stroke-width="0.6"/>
<line x1="339.69" y1="160.80" x2="339.69" y2="161.80" stroke="#444" stroke-width="0.6"/>
<line x1="341.89" y1="160.80" x2="341.89" y2="161.80" stroke="#444" stroke-width="0.6"/>
<line x1="343.70" y1="160.80" x2="343.70" y2="161.80" stroke="#444" stroke-width="0.6"/>
<line x1="345.22" y1="160.80" x2="345.22" y2="161.80" stroke="#444" stroke-width="0.6"/>
<line x1="346.54" y1="160.80" x2="346.54" y2="161.80" stroke="#444" stroke-width="0.6"/>
<line x1="347.71" y1="160.80" x2="347.71" y2="161.80" stroke="#444" stroke-width="0.6"/>
<line x1="355.61" y1="160.80" x2="355.61" y2="161.80" stroke="#444" stroke-width="0.6"/>
<line x1="359.62" y1="160.80" x2="359.62" y2="161.80" stroke="#444" stroke-width="0.6"/>
<line x1="362.46" y1="160.80" x2="362.46" y2="161.80" stroke="#444" stroke-width="0.6"/>
<line x1="364.67" y1="160.80" x2="364.67" y2="161.80" stroke="#444" stroke-width="0.6"/>
<line x1="366.47" y1="160.80" x2="366.47" y2="161.80" stroke="#444" stroke-width="0.6"/>
<line x1="368.00" y1="160.80" x2="368.00" y2="161.80" stroke="#444" stroke-width="0.6"/>
<line x1="369.32" y1="160.80" x2="369.32" y2="161.80" stroke="#444" stroke-width="0.6"/>
<line x1="370.48" y1="160.80" x2="370.48" y2="161.80" stroke="#444" stroke-width="0.6"/>
<line x1="378.38" y1="160.80" x2="378.38" y2="161.80" stroke="#444" stroke-width="0.6"/>
<line x1="382.39" y1="160.80" x2="382.39" y2="161.80" stroke="#444" stroke-width="0.6"/>
<line x1="385.24" y1="160.80" x2="385.24" y2="161.80" stroke="#444" stroke-width="0.6"/>
<line x1="387.44" y1="160.80" x2="387.44" y2="161.80" stroke="#444" stroke-width="0.6"/>
<line x1="389.25" y1="160.80" x2="389.25" y2="161.80" stroke="#444" stroke-width="0.6"/>
<line x1="390.77" y1="160.80" x2="390.77" y2="161.80" stroke="#444" stroke-width="0.6"/>
<line x1="392.09" y1="160.80" x2="392.09" y2="161.80" stroke="#444" stroke-width="0.6"/>
<line x1="393.26" y1="160.80" x2="393.26" y2="161.80" stroke="#444" stroke-width="0.6"/>
<line x1="303.20" y1="160.80" x2="303.20" y2="162.60" stroke="#333" stroke-width="0.8"/>
<text x="303.80" y="167.00" font-size="4.4" text-anchor="middle" fill="#555" stroke="#555" stroke-width="0.05" font-weight="normal" >10<tspan font-size="2.8" dy="-1.6">0</tspan></text>
<line x1="325.98" y1="160.80" x2="325.98" y2="162.60" stroke="#333" stroke-width="0.8"/>
<text x="326.58" y="167.00" font-size="4.4" text-anchor="middle" fill="#555" stroke="#555" stroke-width="0.05" font-weight="normal" >10<tspan font-size="2.8" dy="-1.6">1</tspan></text>
<line x1="348.75" y1="160.80" x2="348.75" y2="162.60" stroke="#333" stroke-width="0.8"/>
<text x="349.35" y="167.00" font-size="4.4" text-anchor="middle" fill="#555" stroke="#555" stroke-width="0.05" font-weight="normal" >10<tspan font-size="2.8" dy="-1.6">2</tspan></text>
<line x1="371.52" y1="160.80" x2="371.52" y2="162.60" stroke="#333" stroke-width="0.8"/>
<text x="372.12" y="167.00" font-size="4.4" text-anchor="middle" fill="#555" stroke="#555" stroke-width="0.05" font-weight="normal" >10<tspan font-size="2.8" dy="-1.6">3</tspan></text>
<line x1="394.30" y1="160.80" x2="394.30" y2="162.60" stroke="#333" stroke-width="0.8"/>
<text x="394.90" y="167.00" font-size="4.4" text-anchor="middle" fill="#555" stroke="#555" stroke-width="0.05" font-weight="normal" >10<tspan font-size="2.8" dy="-1.6">4</tspan></text>
<text x="0" y="0" font-size="6.6" text-anchor="middle" fill="#222" stroke="#222" stroke-width="0.08" transform="translate(291.90,131.70) rotate(-90)">% of Max</text>
<text x="313.20" y="128.00" font-size="9.3" text-anchor="start" fill="#141414" stroke="#141414" stroke-width="0.15" font-weight="normal" >UPN 8</text>
<path d="M351.00,233.45 C351.50,233.30 353.00,233.06 354.00,232.56 C355.00,232.07 356.17,231.73 357.00,230.50 C357.83,229.27 358.42,228.14 359.00,225.19 C359.58,222.24 360.07,218.30 360.50,212.79 C360.93,207.28 361.23,198.43 361.60,192.13 C361.97,185.84 362.33,175.21 362.70,175.02 C363.07,174.82 363.42,184.95 363.80,190.95 C364.18,196.95 364.55,205.41 365.00,211.02 C365.45,216.63 365.92,221.35 366.50,224.60 C367.08,227.84 367.75,229.17 368.50,230.50 C369.25,231.83 369.92,232.07 371.00,232.56 C372.08,233.06 374.33,233.30 375.00,233.45" fill="none" stroke="#d03a52" stroke-width="1.15" stroke-linejoin="round"/>
<path d="M354.00,233.45 C354.67,233.30 356.67,232.96 358.00,232.56 C359.33,232.17 360.83,231.93 362.00,231.09 C363.17,230.25 364.05,228.92 365.00,227.55 C365.95,226.17 366.95,225.78 367.70,222.83 C368.45,219.87 368.92,215.94 369.50,209.84 C370.08,203.74 370.75,191.94 371.20,186.23 C371.65,180.52 371.85,177.28 372.20,175.61 C372.55,173.93 372.92,174.43 373.30,176.20 C373.68,177.97 374.05,182.10 374.50,186.23 C374.95,190.36 375.45,196.07 376.00,200.99 C376.55,205.91 377.22,211.81 377.80,215.74 C378.38,219.68 378.97,222.92 379.50,224.60 C380.03,226.27 380.50,224.99 381.00,225.78 C381.50,226.56 381.92,228.24 382.50,229.32 C383.08,230.40 383.75,231.58 384.50,232.27 C385.25,232.96 386.58,233.25 387.00,233.45" fill="none" stroke="#1f2675" stroke-width="1.15" stroke-linejoin="round"/>
<path d="M355.00,233.45 C355.67,233.25 357.75,232.76 359.00,232.27 C360.25,231.78 361.33,231.48 362.50,230.50 C363.67,229.52 365.00,229.02 366.00,226.37 C367.00,223.71 367.75,219.78 368.50,214.56 C369.25,209.35 369.87,201.18 370.50,195.08 C371.13,188.98 371.83,181.31 372.30,177.97 C372.77,174.62 372.93,174.92 373.30,175.02 C373.67,175.11 374.05,176.69 374.50,178.56 C374.95,180.43 375.50,182.79 376.00,186.23 C376.50,189.67 376.97,194.79 377.50,199.22 C378.03,203.64 378.70,209.45 379.20,212.79 C379.70,216.14 380.12,218.01 380.50,219.28 C380.88,220.56 381.17,219.28 381.50,220.46 C381.83,221.65 382.00,224.60 382.50,226.37 C383.00,228.14 383.58,229.91 384.50,231.09 C385.42,232.27 387.42,233.06 388.00,233.45" fill="none" stroke="#2b7154" stroke-width="1.15" stroke-linejoin="round"/>
<rect x="303.10" y="170.00" width="91.00" height="63.45" fill="none" stroke="#2a2a2a" stroke-width="1.1"/>
<line x1="301.50" y1="233.45" x2="303.10" y2="233.45" stroke="#333" stroke-width="0.9"/>
<text x="300.20" y="235.45" font-size="4.75" text-anchor="end" fill="#3a3a3a" stroke="#3a3a3a" stroke-width="0.08" font-weight="normal" >0</text>
<line x1="301.50" y1="221.28" x2="303.10" y2="221.28" stroke="#333" stroke-width="0.9"/>
<text x="300.20" y="223.28" font-size="4.75" text-anchor="end" fill="#3a3a3a" stroke="#3a3a3a" stroke-width="0.08" font-weight="normal" >20</text>
<line x1="301.50" y1="209.11" x2="303.10" y2="209.11" stroke="#333" stroke-width="0.9"/>
<text x="300.20" y="211.11" font-size="4.75" text-anchor="end" fill="#3a3a3a" stroke="#3a3a3a" stroke-width="0.08" font-weight="normal" >40</text>
<line x1="301.50" y1="196.94" x2="303.10" y2="196.94" stroke="#333" stroke-width="0.9"/>
<text x="300.20" y="198.94" font-size="4.75" text-anchor="end" fill="#3a3a3a" stroke="#3a3a3a" stroke-width="0.08" font-weight="normal" >60</text>
<line x1="301.50" y1="184.77" x2="303.10" y2="184.77" stroke="#333" stroke-width="0.9"/>
<text x="300.20" y="186.77" font-size="4.75" text-anchor="end" fill="#3a3a3a" stroke="#3a3a3a" stroke-width="0.08" font-weight="normal" >80</text>
<line x1="301.50" y1="172.60" x2="303.10" y2="172.60" stroke="#333" stroke-width="0.9"/>
<text x="300.20" y="174.60" font-size="4.75" text-anchor="end" fill="#3a3a3a" stroke="#3a3a3a" stroke-width="0.08" font-weight="normal" >100</text>
<line x1="309.95" y1="233.45" x2="309.95" y2="234.45" stroke="#444" stroke-width="0.6"/>
<line x1="313.95" y1="233.45" x2="313.95" y2="234.45" stroke="#444" stroke-width="0.6"/>
<line x1="316.80" y1="233.45" x2="316.80" y2="234.45" stroke="#444" stroke-width="0.6"/>
<line x1="319.00" y1="233.45" x2="319.00" y2="234.45" stroke="#444" stroke-width="0.6"/>
<line x1="320.80" y1="233.45" x2="320.80" y2="234.45" stroke="#444" stroke-width="0.6"/>
<line x1="322.33" y1="233.45" x2="322.33" y2="234.45" stroke="#444" stroke-width="0.6"/>
<line x1="323.65" y1="233.45" x2="323.65" y2="234.45" stroke="#444" stroke-width="0.6"/>
<line x1="324.81" y1="233.45" x2="324.81" y2="234.45" stroke="#444" stroke-width="0.6"/>
<line x1="332.70" y1="233.45" x2="332.70" y2="234.45" stroke="#444" stroke-width="0.6"/>
<line x1="336.70" y1="233.45" x2="336.70" y2="234.45" stroke="#444" stroke-width="0.6"/>
<line x1="339.55" y1="233.45" x2="339.55" y2="234.45" stroke="#444" stroke-width="0.6"/>
<line x1="341.75" y1="233.45" x2="341.75" y2="234.45" stroke="#444" stroke-width="0.6"/>
<line x1="343.55" y1="233.45" x2="343.55" y2="234.45" stroke="#444" stroke-width="0.6"/>
<line x1="345.08" y1="233.45" x2="345.08" y2="234.45" stroke="#444" stroke-width="0.6"/>
<line x1="346.40" y1="233.45" x2="346.40" y2="234.45" stroke="#444" stroke-width="0.6"/>
<line x1="347.56" y1="233.45" x2="347.56" y2="234.45" stroke="#444" stroke-width="0.6"/>
<line x1="355.45" y1="233.45" x2="355.45" y2="234.45" stroke="#444" stroke-width="0.6"/>
<line x1="359.45" y1="233.45" x2="359.45" y2="234.45" stroke="#444" stroke-width="0.6"/>
<line x1="362.30" y1="233.45" x2="362.30" y2="234.45" stroke="#444" stroke-width="0.6"/>
<line x1="364.50" y1="233.45" x2="364.50" y2="234.45" stroke="#444" stroke-width="0.6"/>
<line x1="366.30" y1="233.45" x2="366.30" y2="234.45" stroke="#444" stroke-width="0.6"/>
<line x1="367.83" y1="233.45" x2="367.83" y2="234.45" stroke="#444" stroke-width="0.6"/>
<line x1="369.15" y1="233.45" x2="369.15" y2="234.45" stroke="#444" stroke-width="0.6"/>
<line x1="370.31" y1="233.45" x2="370.31" y2="234.45" stroke="#444" stroke-width="0.6"/>
<line x1="378.20" y1="233.45" x2="378.20" y2="234.45" stroke="#444" stroke-width="0.6"/>
<line x1="382.20" y1="233.45" x2="382.20" y2="234.45" stroke="#444" stroke-width="0.6"/>
<line x1="385.05" y1="233.45" x2="385.05" y2="234.45" stroke="#444" stroke-width="0.6"/>
<line x1="387.25" y1="233.45" x2="387.25" y2="234.45" stroke="#444" stroke-width="0.6"/>
<line x1="389.05" y1="233.45" x2="389.05" y2="234.45" stroke="#444" stroke-width="0.6"/>
<line x1="390.58" y1="233.45" x2="390.58" y2="234.45" stroke="#444" stroke-width="0.6"/>
<line x1="391.90" y1="233.45" x2="391.90" y2="234.45" stroke="#444" stroke-width="0.6"/>
<line x1="393.06" y1="233.45" x2="393.06" y2="234.45" stroke="#444" stroke-width="0.6"/>
<line x1="303.10" y1="233.45" x2="303.10" y2="235.25" stroke="#333" stroke-width="0.8"/>
<text x="303.70" y="239.65" font-size="4.4" text-anchor="middle" fill="#555" stroke="#555" stroke-width="0.05" font-weight="normal" >10<tspan font-size="2.8" dy="-1.6">0</tspan></text>
<line x1="325.85" y1="233.45" x2="325.85" y2="235.25" stroke="#333" stroke-width="0.8"/>
<text x="326.45" y="239.65" font-size="4.4" text-anchor="middle" fill="#555" stroke="#555" stroke-width="0.05" font-weight="normal" >10<tspan font-size="2.8" dy="-1.6">1</tspan></text>
<line x1="348.60" y1="233.45" x2="348.60" y2="235.25" stroke="#333" stroke-width="0.8"/>
<text x="349.20" y="239.65" font-size="4.4" text-anchor="middle" fill="#555" stroke="#555" stroke-width="0.05" font-weight="normal" >10<tspan font-size="2.8" dy="-1.6">2</tspan></text>
<line x1="371.35" y1="233.45" x2="371.35" y2="235.25" stroke="#333" stroke-width="0.8"/>
<text x="371.95" y="239.65" font-size="4.4" text-anchor="middle" fill="#555" stroke="#555" stroke-width="0.05" font-weight="normal" >10<tspan font-size="2.8" dy="-1.6">3</tspan></text>
<line x1="394.10" y1="233.45" x2="394.10" y2="235.25" stroke="#333" stroke-width="0.8"/>
<text x="394.70" y="239.65" font-size="4.4" text-anchor="middle" fill="#555" stroke="#555" stroke-width="0.05" font-weight="normal" >10<tspan font-size="2.8" dy="-1.6">4</tspan></text>
<text x="0" y="0" font-size="6.6" text-anchor="middle" fill="#222" stroke="#222" stroke-width="0.08" transform="translate(291.80,204.32) rotate(-90)">% of Max</text>
<text x="313.10" y="200.60" font-size="9.3" text-anchor="start" fill="#141414" stroke="#141414" stroke-width="0.15" font-weight="normal" >UPN 9</text>
<path d="M338.00,305.50 C338.67,305.45 340.67,305.35 342.00,305.21 C343.33,305.06 344.73,304.91 346.00,304.62 C347.27,304.33 348.43,303.98 349.60,303.44 C350.77,302.91 351.93,302.22 353.00,301.39 C354.07,300.56 355.17,299.43 356.00,298.45 C356.83,297.47 357.50,296.40 358.00,295.52 C358.50,294.63 358.63,294.63 359.00,293.17 C359.37,291.70 359.82,289.05 360.20,286.71 C360.58,284.36 360.95,281.42 361.30,279.07 C361.65,276.72 361.97,274.08 362.30,272.61 C362.63,271.14 362.98,271.83 363.30,270.26 C363.62,268.69 363.95,265.17 364.20,263.21 C364.45,261.25 364.58,260.37 364.80,258.51 C365.02,256.65 365.22,253.91 365.50,252.05 C365.78,250.19 366.17,247.55 366.50,247.35 C366.83,247.16 367.18,249.80 367.50,250.88 C367.82,251.95 368.08,252.74 368.40,253.81 C368.72,254.89 369.05,255.58 369.40,257.34 C369.75,259.10 370.10,261.45 370.50,264.39 C370.90,267.32 371.28,271.53 371.80,274.96 C372.32,278.38 373.07,281.81 373.60,284.94 C374.13,288.08 374.52,291.21 375.00,293.75 C375.48,296.30 375.87,298.45 376.50,300.21 C377.13,301.98 378.05,303.44 378.80,304.33 C379.55,305.21 380.63,305.30 381.00,305.50" fill="none" stroke="#d03a52" stroke-width="1.15" stroke-linejoin="round"/>
<path d="M348.00,305.50 C348.83,305.40 351.50,305.30 353.00,304.91 C354.50,304.52 355.67,304.03 357.00,303.15 C358.33,302.27 359.83,301.39 361.00,299.63 C362.17,297.86 363.17,295.32 364.00,292.58 C364.83,289.84 365.33,287.10 366.00,283.18 C366.67,279.27 367.37,273.98 368.00,269.09 C368.63,264.19 369.27,257.44 369.80,253.81 C370.33,250.19 370.75,248.14 371.20,247.35 C371.65,246.57 372.03,247.26 372.50,249.12 C372.97,250.98 373.50,254.79 374.00,258.51 C374.50,262.23 375.00,267.52 375.50,271.43 C376.00,275.35 376.42,278.48 377.00,282.01 C377.58,285.53 378.33,289.54 379.00,292.58 C379.67,295.61 380.33,298.35 381.00,300.21 C381.67,302.07 382.17,302.86 383.00,303.74 C383.83,304.62 385.50,305.21 386.00,305.50" fill="none" stroke="#2b7154" stroke-width="1.15" stroke-linejoin="round"/>
<path d="M350.00,305.50 C350.83,305.40 353.50,305.30 355.00,304.91 C356.50,304.52 357.75,304.03 359.00,303.15 C360.25,302.27 361.42,301.39 362.50,299.63 C363.58,297.86 364.67,295.52 365.50,292.58 C366.33,289.64 366.83,286.22 367.50,282.01 C368.17,277.80 368.92,272.02 369.50,267.32 C370.08,262.62 370.55,257.24 371.00,253.81 C371.45,250.39 371.83,247.65 372.20,246.77 C372.57,245.89 372.82,246.86 373.20,248.53 C373.58,250.19 374.03,253.13 374.50,256.75 C374.97,260.37 375.50,266.05 376.00,270.26 C376.50,274.47 377.00,278.48 377.50,282.01 C378.00,285.53 378.42,288.47 379.00,291.40 C379.58,294.34 380.25,297.57 381.00,299.63 C381.75,301.68 382.50,302.76 383.50,303.74 C384.50,304.72 386.42,305.21 387.00,305.50" fill="none" stroke="#1f2675" stroke-width="1.15" stroke-linejoin="round"/>
<rect x="302.40" y="242.35" width="91.20" height="63.15" fill="none" stroke="#2a2a2a" stroke-width="1.1"/>
<line x1="300.80" y1="305.50" x2="302.40" y2="305.50" stroke="#333" stroke-width="0.9"/>
<text x="299.50" y="307.50" font-size="4.75" text-anchor="end" fill="#3a3a3a" stroke="#3a3a3a" stroke-width="0.08" font-weight="normal" >0</text>
<line x1="300.80" y1="293.39" x2="302.40" y2="293.39" stroke="#333" stroke-width="0.9"/>
<text x="299.50" y="295.39" font-size="4.75" text-anchor="end" fill="#3a3a3a" stroke="#3a3a3a" stroke-width="0.08" font-weight="normal" >20</text>
<line x1="300.80" y1="281.28" x2="302.40" y2="281.28" stroke="#333" stroke-width="0.9"/>
<text x="299.50" y="283.28" font-size="4.75" text-anchor="end" fill="#3a3a3a" stroke="#3a3a3a" stroke-width="0.08" font-weight="normal" >40</text>
<line x1="300.80" y1="269.17" x2="302.40" y2="269.17" stroke="#333" stroke-width="0.9"/>
<text x="299.50" y="271.17" font-size="4.75" text-anchor="end" fill="#3a3a3a" stroke="#3a3a3a" stroke-width="0.08" font-weight="normal" >60</text>
<line x1="300.80" y1="257.06" x2="302.40" y2="257.06" stroke="#333" stroke-width="0.9"/>
<text x="299.50" y="259.06" font-size="4.75" text-anchor="end" fill="#3a3a3a" stroke="#3a3a3a" stroke-width="0.08" font-weight="normal" >80</text>
<line x1="300.80" y1="244.95" x2="302.40" y2="244.95" stroke="#333" stroke-width="0.9"/>
<text x="299.50" y="246.95" font-size="4.75" text-anchor="end" fill="#3a3a3a" stroke="#3a3a3a" stroke-width="0.08" font-weight="normal" >100</text>
<line x1="309.26" y1="305.50" x2="309.26" y2="306.50" stroke="#444" stroke-width="0.6"/>
<line x1="313.28" y1="305.50" x2="313.28" y2="306.50" stroke="#444" stroke-width="0.6"/>
<line x1="316.13" y1="305.50" x2="316.13" y2="306.50" stroke="#444" stroke-width="0.6"/>
<line x1="318.34" y1="305.50" x2="318.34" y2="306.50" stroke="#444" stroke-width="0.6"/>
<line x1="320.14" y1="305.50" x2="320.14" y2="306.50" stroke="#444" stroke-width="0.6"/>
<line x1="321.67" y1="305.50" x2="321.67" y2="306.50" stroke="#444" stroke-width="0.6"/>
<line x1="322.99" y1="305.50" x2="322.99" y2="306.50" stroke="#444" stroke-width="0.6"/>
<line x1="324.16" y1="305.50" x2="324.16" y2="306.50" stroke="#444" stroke-width="0.6"/>
<line x1="332.06" y1="305.50" x2="332.06" y2="306.50" stroke="#444" stroke-width="0.6"/>
<line x1="336.08" y1="305.50" x2="336.08" y2="306.50" stroke="#444" stroke-width="0.6"/>
<line x1="338.93" y1="305.50" x2="338.93" y2="306.50" stroke="#444" stroke-width="0.6"/>
<line x1="341.14" y1="305.50" x2="341.14" y2="306.50" stroke="#444" stroke-width="0.6"/>
<line x1="342.94" y1="305.50" x2="342.94" y2="306.50" stroke="#444" stroke-width="0.6"/>
<line x1="344.47" y1="305.50" x2="344.47" y2="306.50" stroke="#444" stroke-width="0.6"/>
<line x1="345.79" y1="305.50" x2="345.79" y2="306.50" stroke="#444" stroke-width="0.6"/>
<line x1="346.96" y1="305.50" x2="346.96" y2="306.50" stroke="#444" stroke-width="0.6"/>
<line x1="354.86" y1="305.50" x2="354.86" y2="306.50" stroke="#444" stroke-width="0.6"/>
<line x1="358.88" y1="305.50" x2="358.88" y2="306.50" stroke="#444" stroke-width="0.6"/>
<line x1="361.73" y1="305.50" x2="361.73" y2="306.50" stroke="#444" stroke-width="0.6"/>
<line x1="363.94" y1="305.50" x2="363.94" y2="306.50" stroke="#444" stroke-width="0.6"/>
<line x1="365.74" y1="305.50" x2="365.74" y2="306.50" stroke="#444" stroke-width="0.6"/>
<line x1="367.27" y1="305.50" x2="367.27" y2="306.50" stroke="#444" stroke-width="0.6"/>
<line x1="368.59" y1="305.50" x2="368.59" y2="306.50" stroke="#444" stroke-width="0.6"/>
<line x1="369.76" y1="305.50" x2="369.76" y2="306.50" stroke="#444" stroke-width="0.6"/>
<line x1="377.66" y1="305.50" x2="377.66" y2="306.50" stroke="#444" stroke-width="0.6"/>
<line x1="381.68" y1="305.50" x2="381.68" y2="306.50" stroke="#444" stroke-width="0.6"/>
<line x1="384.53" y1="305.50" x2="384.53" y2="306.50" stroke="#444" stroke-width="0.6"/>
<line x1="386.74" y1="305.50" x2="386.74" y2="306.50" stroke="#444" stroke-width="0.6"/>
<line x1="388.54" y1="305.50" x2="388.54" y2="306.50" stroke="#444" stroke-width="0.6"/>
<line x1="390.07" y1="305.50" x2="390.07" y2="306.50" stroke="#444" stroke-width="0.6"/>
<line x1="391.39" y1="305.50" x2="391.39" y2="306.50" stroke="#444" stroke-width="0.6"/>
<line x1="392.56" y1="305.50" x2="392.56" y2="306.50" stroke="#444" stroke-width="0.6"/>
<line x1="302.40" y1="305.50" x2="302.40" y2="307.30" stroke="#333" stroke-width="0.8"/>
<text x="303.00" y="311.70" font-size="4.4" text-anchor="middle" fill="#555" stroke="#555" stroke-width="0.05" font-weight="normal" >10<tspan font-size="2.8" dy="-1.6">0</tspan></text>
<line x1="325.20" y1="305.50" x2="325.20" y2="307.30" stroke="#333" stroke-width="0.8"/>
<text x="325.80" y="311.70" font-size="4.4" text-anchor="middle" fill="#555" stroke="#555" stroke-width="0.05" font-weight="normal" >10<tspan font-size="2.8" dy="-1.6">1</tspan></text>
<line x1="348.00" y1="305.50" x2="348.00" y2="307.30" stroke="#333" stroke-width="0.8"/>
<text x="348.60" y="311.70" font-size="4.4" text-anchor="middle" fill="#555" stroke="#555" stroke-width="0.05" font-weight="normal" >10<tspan font-size="2.8" dy="-1.6">2</tspan></text>
<line x1="370.80" y1="305.50" x2="370.80" y2="307.30" stroke="#333" stroke-width="0.8"/>
<text x="371.40" y="311.70" font-size="4.4" text-anchor="middle" fill="#555" stroke="#555" stroke-width="0.05" font-weight="normal" >10<tspan font-size="2.8" dy="-1.6">3</tspan></text>
<line x1="393.60" y1="305.50" x2="393.60" y2="307.30" stroke="#333" stroke-width="0.8"/>
<text x="394.20" y="311.70" font-size="4.4" text-anchor="middle" fill="#555" stroke="#555" stroke-width="0.05" font-weight="normal" >10<tspan font-size="2.8" dy="-1.6">4</tspan></text>
<text x="0" y="0" font-size="6.6" text-anchor="middle" fill="#222" stroke="#222" stroke-width="0.08" transform="translate(292.10,276.53) rotate(-90)">% of Max</text>
<text x="314.40" y="273.65" font-size="9.3" text-anchor="start" fill="#141414" stroke="#141414" stroke-width="0.15" font-weight="normal" >UPN 12</text>
<line x1="304.50" y1="314.40" x2="384.30" y2="314.40" stroke="#111" stroke-width="1.3"/>
<polygon points="381.50,310.70 393.30,314.40 381.50,318.10 383.50,314.40" fill="#111"/>
<text x="346.10" y="321.60" font-size="7.8" text-anchor="middle" fill="#1a1a1a" stroke="#1a1a1a" stroke-width="0.15" font-weight="normal" >CD47</text>
<path d="M470.00,88.80 C470.62,88.70 472.78,88.70 473.70,88.21 C474.62,87.71 475.00,87.31 475.50,85.83 C476.00,84.34 476.32,82.75 476.70,79.29 C477.08,75.82 477.42,70.57 477.80,65.02 C478.18,59.47 478.53,51.84 479.00,45.99 C479.47,40.14 480.13,30.73 480.60,29.93 C481.07,29.14 481.43,36.97 481.80,41.23 C482.17,45.49 482.43,50.74 482.80,55.50 C483.17,60.26 483.67,66.01 484.00,69.77 C484.33,73.54 484.38,75.82 484.80,78.10 C485.22,80.38 485.80,82.16 486.50,83.45 C487.20,84.74 488.22,85.23 489.00,85.83 C489.78,86.42 490.37,86.62 491.20,87.02 C492.03,87.41 493.03,87.91 494.00,88.21 C494.97,88.50 496.50,88.70 497.00,88.80" fill="none" stroke="#d03a52" stroke-width="1.15" stroke-linejoin="round"/>
<path d="M472.00,88.80 C472.78,88.75 475.43,88.80 476.70,88.50 C477.97,88.21 478.72,87.56 479.60,87.02 C480.48,86.47 481.27,86.12 482.00,85.23 C482.73,84.34 483.43,83.05 484.00,81.66 C484.57,80.28 484.97,80.18 485.40,76.91 C485.83,73.64 486.20,67.49 486.60,62.04 C487.00,56.59 487.33,49.56 487.80,44.20 C488.27,38.85 488.95,30.63 489.40,29.93 C489.85,29.24 490.10,35.38 490.50,40.04 C490.90,44.70 491.38,53.52 491.80,57.88 C492.22,62.24 492.55,63.03 493.00,66.20 C493.45,69.38 494.00,73.93 494.50,76.91 C495.00,79.88 495.33,82.36 496.00,84.04 C496.67,85.73 497.50,86.42 498.50,87.02 C499.50,87.61 500.92,87.61 502.00,87.61 C503.08,87.61 504.17,87.12 505.00,87.02 C505.83,86.92 506.33,86.82 507.00,87.02 C507.67,87.21 508.33,87.91 509.00,88.21 C509.67,88.50 510.67,88.70 511.00,88.80" fill="none" stroke="#1f2675" stroke-width="1.15" stroke-linejoin="round"/>
<path d="M474.00,88.80 C474.67,88.75 476.83,88.70 478.00,88.50 C479.17,88.30 480.08,88.06 481.00,87.61 C481.92,87.16 482.75,86.82 483.50,85.83 C484.25,84.84 484.92,83.65 485.50,81.66 C486.08,79.68 486.50,78.20 487.00,73.93 C487.50,69.67 488.00,62.04 488.50,56.10 C489.00,50.15 489.55,42.52 490.00,38.26 C490.45,34.00 490.83,31.92 491.20,30.53 C491.57,29.14 491.82,28.94 492.20,29.93 C492.58,30.92 493.05,32.81 493.50,36.47 C493.95,40.14 494.45,47.18 494.90,51.93 C495.35,56.69 495.72,60.66 496.20,65.02 C496.68,69.38 497.25,74.73 497.80,78.10 C498.35,81.47 498.80,83.60 499.50,85.23 C500.20,86.87 501.08,87.31 502.00,87.91 C502.92,88.50 504.50,88.65 505.00,88.80" fill="none" stroke="#2b7154" stroke-width="1.15" stroke-linejoin="round"/>
<rect x="424.60" y="24.90" width="90.90" height="63.90" fill="none" stroke="#2a2a2a" stroke-width="1.1"/>
<line x1="423.00" y1="88.80" x2="424.60" y2="88.80" stroke="#333" stroke-width="0.9"/>
<text x="421.70" y="90.80" font-size="4.75" text-anchor="end" fill="#3a3a3a" stroke="#3a3a3a" stroke-width="0.08" font-weight="normal" >0</text>
<line x1="423.00" y1="76.54" x2="424.60" y2="76.54" stroke="#333" stroke-width="0.9"/>
<text x="421.70" y="78.54" font-size="4.75" text-anchor="end" fill="#3a3a3a" stroke="#3a3a3a" stroke-width="0.08" font-weight="normal" >20</text>
<line x1="423.00" y1="64.28" x2="424.60" y2="64.28" stroke="#333" stroke-width="0.9"/>
<text x="421.70" y="66.28" font-size="4.75" text-anchor="end" fill="#3a3a3a" stroke="#3a3a3a" stroke-width="0.08" font-weight="normal" >40</text>
<line x1="423.00" y1="52.02" x2="424.60" y2="52.02" stroke="#333" stroke-width="0.9"/>
<text x="421.70" y="54.02" font-size="4.75" text-anchor="end" fill="#3a3a3a" stroke="#3a3a3a" stroke-width="0.08" font-weight="normal" >60</text>
<line x1="423.00" y1="39.76" x2="424.60" y2="39.76" stroke="#333" stroke-width="0.9"/>
<text x="421.70" y="41.76" font-size="4.75" text-anchor="end" fill="#3a3a3a" stroke="#3a3a3a" stroke-width="0.08" font-weight="normal" >80</text>
<line x1="423.00" y1="27.50" x2="424.60" y2="27.50" stroke="#333" stroke-width="0.9"/>
<text x="421.70" y="29.50" font-size="4.75" text-anchor="end" fill="#3a3a3a" stroke="#3a3a3a" stroke-width="0.08" font-weight="normal" >100</text>
<line x1="431.44" y1="88.80" x2="431.44" y2="89.80" stroke="#444" stroke-width="0.6"/>
<line x1="435.44" y1="88.80" x2="435.44" y2="89.80" stroke="#444" stroke-width="0.6"/>
<line x1="438.28" y1="88.80" x2="438.28" y2="89.80" stroke="#444" stroke-width="0.6"/>
<line x1="440.48" y1="88.80" x2="440.48" y2="89.80" stroke="#444" stroke-width="0.6"/>
<line x1="442.28" y1="88.80" x2="442.28" y2="89.80" stroke="#444" stroke-width="0.6"/>
<line x1="443.80" y1="88.80" x2="443.80" y2="89.80" stroke="#444" stroke-width="0.6"/>
<line x1="445.12" y1="88.80" x2="445.12" y2="89.80" stroke="#444" stroke-width="0.6"/>
<line x1="446.29" y1="88.80" x2="446.29" y2="89.80" stroke="#444" stroke-width="0.6"/>
<line x1="454.17" y1="88.80" x2="454.17" y2="89.80" stroke="#444" stroke-width="0.6"/>
<line x1="458.17" y1="88.80" x2="458.17" y2="89.80" stroke="#444" stroke-width="0.6"/>
<line x1="461.01" y1="88.80" x2="461.01" y2="89.80" stroke="#444" stroke-width="0.6"/>
<line x1="463.21" y1="88.80" x2="463.21" y2="89.80" stroke="#444" stroke-width="0.6"/>
<line x1="465.01" y1="88.80" x2="465.01" y2="89.80" stroke="#444" stroke-width="0.6"/>
<line x1="466.53" y1="88.80" x2="466.53" y2="89.80" stroke="#444" stroke-width="0.6"/>
<line x1="467.85" y1="88.80" x2="467.85" y2="89.80" stroke="#444" stroke-width="0.6"/>
<line x1="469.01" y1="88.80" x2="469.01" y2="89.80" stroke="#444" stroke-width="0.6"/>
<line x1="476.89" y1="88.80" x2="476.89" y2="89.80" stroke="#444" stroke-width="0.6"/>
<line x1="480.89" y1="88.80" x2="480.89" y2="89.80" stroke="#444" stroke-width="0.6"/>
<line x1="483.73" y1="88.80" x2="483.73" y2="89.80" stroke="#444" stroke-width="0.6"/>
<line x1="485.93" y1="88.80" x2="485.93" y2="89.80" stroke="#444" stroke-width="0.6"/>
<line x1="487.73" y1="88.80" x2="487.73" y2="89.80" stroke="#444" stroke-width="0.6"/>
<line x1="489.25" y1="88.80" x2="489.25" y2="89.80" stroke="#444" stroke-width="0.6"/>
<line x1="490.57" y1="88.80" x2="490.57" y2="89.80" stroke="#444" stroke-width="0.6"/>
<line x1="491.74" y1="88.80" x2="491.74" y2="89.80" stroke="#444" stroke-width="0.6"/>
<line x1="499.62" y1="88.80" x2="499.62" y2="89.80" stroke="#444" stroke-width="0.6"/>
<line x1="503.62" y1="88.80" x2="503.62" y2="89.80" stroke="#444" stroke-width="0.6"/>
<line x1="506.46" y1="88.80" x2="506.46" y2="89.80" stroke="#444" stroke-width="0.6"/>
<line x1="508.66" y1="88.80" x2="508.66" y2="89.80" stroke="#444" stroke-width="0.6"/>
<line x1="510.46" y1="88.80" x2="510.46" y2="89.80" stroke="#444" stroke-width="0.6"/>
<line x1="511.98" y1="88.80" x2="511.98" y2="89.80" stroke="#444" stroke-width="0.6"/>
<line x1="513.30" y1="88.80" x2="513.30" y2="89.80" stroke="#444" stroke-width="0.6"/>
<line x1="514.46" y1="88.80" x2="514.46" y2="89.80" stroke="#444" stroke-width="0.6"/>
<line x1="424.60" y1="88.80" x2="424.60" y2="90.60" stroke="#333" stroke-width="0.8"/>
<text x="425.20" y="95.00" font-size="4.4" text-anchor="middle" fill="#555" stroke="#555" stroke-width="0.05" font-weight="normal" >10<tspan font-size="2.8" dy="-1.6">0</tspan></text>
<line x1="447.33" y1="88.80" x2="447.33" y2="90.60" stroke="#333" stroke-width="0.8"/>
<text x="447.93" y="95.00" font-size="4.4" text-anchor="middle" fill="#555" stroke="#555" stroke-width="0.05" font-weight="normal" >10<tspan font-size="2.8" dy="-1.6">1</tspan></text>
<line x1="470.05" y1="88.80" x2="470.05" y2="90.60" stroke="#333" stroke-width="0.8"/>
<text x="470.65" y="95.00" font-size="4.4" text-anchor="middle" fill="#555" stroke="#555" stroke-width="0.05" font-weight="normal" >10<tspan font-size="2.8" dy="-1.6">2</tspan></text>
<line x1="492.77" y1="88.80" x2="492.77" y2="90.60" stroke="#333" stroke-width="0.8"/>
<text x="493.38" y="95.00" font-size="4.4" text-anchor="middle" fill="#555" stroke="#555" stroke-width="0.05" font-weight="normal" >10<tspan font-size="2.8" dy="-1.6">3</tspan></text>
<line x1="515.50" y1="88.80" x2="515.50" y2="90.60" stroke="#333" stroke-width="0.8"/>
<text x="516.10" y="95.00" font-size="4.4" text-anchor="middle" fill="#555" stroke="#555" stroke-width="0.05" font-weight="normal" >10<tspan font-size="2.8" dy="-1.6">4</tspan></text>
<text x="0" y="0" font-size="6.6" text-anchor="middle" fill="#222" stroke="#222" stroke-width="0.08" transform="translate(413.30,59.45) rotate(-90)">% of Max</text>
<text x="431.20" y="55.20" font-size="9.3" text-anchor="start" fill="#141414" stroke="#141414" stroke-width="0.15" font-weight="normal" >Onset</text>
<rect x="425.90" y="59.00" width="49.40" height="22.40" fill="#fff" stroke="#333" stroke-width="0.9"/>
<line x1="428.20" y1="63.10" x2="434.80" y2="63.10" stroke="#d03a52" stroke-width="1.7"/>
<text x="436.90" y="65.20" font-size="5.8" text-anchor="start" fill="#262626" stroke="#262626" stroke-width="0.08" font-weight="normal" >CD34+CD38-</text>
<line x1="428.20" y1="70.40" x2="434.80" y2="70.40" stroke="#1f2675" stroke-width="1.7"/>
<text x="436.90" y="72.50" font-size="5.8" text-anchor="start" fill="#262626" stroke="#262626" stroke-width="0.08" font-weight="normal" >CD34+CD38+</text>
<line x1="428.20" y1="77.70" x2="434.80" y2="77.70" stroke="#2b7154" stroke-width="1.7"/>
<text x="436.90" y="79.80" font-size="5.8" text-anchor="start" fill="#262626" stroke="#262626" stroke-width="0.08" font-weight="normal" >bulk</text>
<path d="M472.00,161.20 C472.50,161.15 474.10,161.10 475.00,160.90 C475.90,160.71 476.65,160.95 477.40,160.02 C478.15,159.08 478.90,157.65 479.50,155.28 C480.10,152.92 480.53,149.27 481.00,145.82 C481.47,142.36 481.90,137.83 482.30,134.57 C482.70,131.32 483.02,129.35 483.40,126.29 C483.78,123.23 484.23,118.89 484.60,116.23 C484.97,113.57 485.25,111.10 485.60,110.31 C485.95,109.52 486.33,111.00 486.70,111.50 C487.07,111.99 487.38,114.06 487.80,113.27 C488.22,112.48 488.73,108.74 489.20,106.76 C489.67,104.79 490.22,101.83 490.60,101.44 C490.98,101.04 491.23,103.61 491.50,104.40 C491.77,105.19 491.98,105.78 492.20,106.17 C492.42,106.57 492.60,106.66 492.80,106.76 C493.00,106.86 493.17,105.78 493.40,106.76 C493.63,107.75 493.93,110.61 494.20,112.68 C494.47,114.75 494.72,116.92 495.00,119.19 C495.28,121.46 495.60,123.43 495.90,126.29 C496.20,129.15 496.48,133.09 496.80,136.35 C497.12,139.60 497.35,142.76 497.80,145.82 C498.25,148.87 498.88,152.52 499.50,154.69 C500.12,156.86 500.82,157.85 501.50,158.83 C502.18,159.82 502.68,160.21 503.60,160.61 C504.52,161.00 506.43,161.10 507.00,161.20" fill="none" stroke="#d03a52" stroke-width="1.15" stroke-linejoin="round"/>
<path d="M476.00,161.20 C476.58,161.15 478.50,161.20 479.50,160.90 C480.50,160.61 481.33,160.36 482.00,159.42 C482.67,158.49 483.08,157.16 483.50,155.28 C483.92,153.41 484.17,150.75 484.50,148.18 C484.83,145.62 485.17,142.96 485.50,139.90 C485.83,136.84 486.15,133.19 486.50,129.84 C486.85,126.49 487.23,123.04 487.60,119.78 C487.97,116.53 488.37,112.88 488.70,110.31 C489.03,107.75 489.33,105.78 489.60,104.40 C489.87,103.02 490.03,101.44 490.30,102.03 C490.57,102.62 490.83,105.68 491.20,107.95 C491.57,110.22 492.12,112.88 492.50,115.64 C492.88,118.40 493.17,121.85 493.50,124.51 C493.83,127.18 494.13,129.05 494.50,131.61 C494.87,134.18 495.28,137.14 495.70,139.90 C496.12,142.66 496.53,145.72 497.00,148.18 C497.47,150.65 497.92,152.92 498.50,154.69 C499.08,156.47 499.75,157.75 500.50,158.83 C501.25,159.92 502.58,160.81 503.00,161.20" fill="none" stroke="#2b7154" stroke-width="1.15" stroke-linejoin="round"/>
<path d="M474.00,161.20 C474.67,161.15 476.92,161.20 478.00,160.90 C479.08,160.61 479.83,160.26 480.50,159.42 C481.17,158.59 481.55,157.35 482.00,155.87 C482.45,154.40 482.70,153.21 483.20,150.55 C483.70,147.89 484.52,143.05 485.00,139.90 C485.48,136.74 485.78,133.88 486.10,131.61 C486.42,129.35 486.67,128.95 486.90,126.29 C487.13,123.63 487.25,119.68 487.50,115.64 C487.75,111.60 488.13,103.81 488.40,102.03 C488.67,100.25 488.88,103.81 489.10,104.99 C489.32,106.17 489.45,107.26 489.70,109.13 C489.95,111.00 490.28,113.86 490.60,116.23 C490.92,118.60 491.23,120.96 491.60,123.33 C491.97,125.70 492.37,127.87 492.80,130.43 C493.23,133.00 493.73,136.15 494.20,138.72 C494.67,141.28 495.13,143.55 495.60,145.82 C496.07,148.08 496.43,150.45 497.00,152.32 C497.57,154.20 498.33,155.78 499.00,157.06 C499.67,158.34 500.17,159.33 501.00,160.02 C501.83,160.71 503.50,161.00 504.00,161.20" fill="none" stroke="#1f2675" stroke-width="1.15" stroke-linejoin="round"/>
<rect x="424.30" y="97.60" width="91.20" height="63.60" fill="none" stroke="#2a2a2a" stroke-width="1.1"/>
<line x1="422.70" y1="161.20" x2="424.30" y2="161.20" stroke="#333" stroke-width="0.9"/>
<text x="421.40" y="163.20" font-size="4.75" text-anchor="end" fill="#3a3a3a" stroke="#3a3a3a" stroke-width="0.08" font-weight="normal" >0</text>
<line x1="422.70" y1="149.00" x2="424.30" y2="149.00" stroke="#333" stroke-width="0.9"/>
<text x="421.40" y="151.00" font-size="4.75" text-anchor="end" fill="#3a3a3a" stroke="#3a3a3a" stroke-width="0.08" font-weight="normal" >20</text>
<line x1="422.70" y1="136.80" x2="424.30" y2="136.80" stroke="#333" stroke-width="0.9"/>
<text x="421.40" y="138.80" font-size="4.75" text-anchor="end" fill="#3a3a3a" stroke="#3a3a3a" stroke-width="0.08" font-weight="normal" >40</text>
<line x1="422.70" y1="124.60" x2="424.30" y2="124.60" stroke="#333" stroke-width="0.9"/>
<text x="421.40" y="126.60" font-size="4.75" text-anchor="end" fill="#3a3a3a" stroke="#3a3a3a" stroke-width="0.08" font-weight="normal" >60</text>
<line x1="422.70" y1="112.40" x2="424.30" y2="112.40" stroke="#333" stroke-width="0.9"/>
<text x="421.40" y="114.40" font-size="4.75" text-anchor="end" fill="#3a3a3a" stroke="#3a3a3a" stroke-width="0.08" font-weight="normal" >80</text>
<line x1="422.70" y1="100.20" x2="424.30" y2="100.20" stroke="#333" stroke-width="0.9"/>
<text x="421.40" y="102.20" font-size="4.75" text-anchor="end" fill="#3a3a3a" stroke="#3a3a3a" stroke-width="0.08" font-weight="normal" >100</text>
<line x1="431.16" y1="161.20" x2="431.16" y2="162.20" stroke="#444" stroke-width="0.6"/>
<line x1="435.18" y1="161.20" x2="435.18" y2="162.20" stroke="#444" stroke-width="0.6"/>
<line x1="438.03" y1="161.20" x2="438.03" y2="162.20" stroke="#444" stroke-width="0.6"/>
<line x1="440.24" y1="161.20" x2="440.24" y2="162.20" stroke="#444" stroke-width="0.6"/>
<line x1="442.04" y1="161.20" x2="442.04" y2="162.20" stroke="#444" stroke-width="0.6"/>
<line x1="443.57" y1="161.20" x2="443.57" y2="162.20" stroke="#444" stroke-width="0.6"/>
<line x1="444.89" y1="161.20" x2="444.89" y2="162.20" stroke="#444" stroke-width="0.6"/>
<line x1="446.06" y1="161.20" x2="446.06" y2="162.20" stroke="#444" stroke-width="0.6"/>
<line x1="453.96" y1="161.20" x2="453.96" y2="162.20" stroke="#444" stroke-width="0.6"/>
<line x1="457.98" y1="161.20" x2="457.98" y2="162.20" stroke="#444" stroke-width="0.6"/>
<line x1="460.83" y1="161.20" x2="460.83" y2="162.20" stroke="#444" stroke-width="0.6"/>
<line x1="463.04" y1="161.20" x2="463.04" y2="162.20" stroke="#444" stroke-width="0.6"/>
<line x1="464.84" y1="161.20" x2="464.84" y2="162.20" stroke="#444" stroke-width="0.6"/>
<line x1="466.37" y1="161.20" x2="466.37" y2="162.20" stroke="#444" stroke-width="0.6"/>
<line x1="467.69" y1="161.20" x2="467.69" y2="162.20" stroke="#444" stroke-width="0.6"/>
<line x1="468.86" y1="161.20" x2="468.86" y2="162.20" stroke="#444" stroke-width="0.6"/>
<line x1="476.76" y1="161.20" x2="476.76" y2="162.20" stroke="#444" stroke-width="0.6"/>
<line x1="480.78" y1="161.20" x2="480.78" y2="162.20" stroke="#444" stroke-width="0.6"/>
<line x1="483.63" y1="161.20" x2="483.63" y2="162.20" stroke="#444" stroke-width="0.6"/>
<line x1="485.84" y1="161.20" x2="485.84" y2="162.20" stroke="#444" stroke-width="0.6"/>
<line x1="487.64" y1="161.20" x2="487.64" y2="162.20" stroke="#444" stroke-width="0.6"/>
<line x1="489.17" y1="161.20" x2="489.17" y2="162.20" stroke="#444" stroke-width="0.6"/>
<line x1="490.49" y1="161.20" x2="490.49" y2="162.20" stroke="#444" stroke-width="0.6"/>
<line x1="491.66" y1="161.20" x2="491.66" y2="162.20" stroke="#444" stroke-width="0.6"/>
<line x1="499.56" y1="161.20" x2="499.56" y2="162.20" stroke="#444" stroke-width="0.6"/>
<line x1="503.58" y1="161.20" x2="503.58" y2="162.20" stroke="#444" stroke-width="0.6"/>
<line x1="506.43" y1="161.20" x2="506.43" y2="162.20" stroke="#444" stroke-width="0.6"/>
<line x1="508.64" y1="161.20" x2="508.64" y2="162.20" stroke="#444" stroke-width="0.6"/>
<line x1="510.44" y1="161.20" x2="510.44" y2="162.20" stroke="#444" stroke-width="0.6"/>
<line x1="511.97" y1="161.20" x2="511.97" y2="162.20" stroke="#444" stroke-width="0.6"/>
<line x1="513.29" y1="161.20" x2="513.29" y2="162.20" stroke="#444" stroke-width="0.6"/>
<line x1="514.46" y1="161.20" x2="514.46" y2="162.20" stroke="#444" stroke-width="0.6"/>
<line x1="424.30" y1="161.20" x2="424.30" y2="163.00" stroke="#333" stroke-width="0.8"/>
<text x="424.90" y="167.40" font-size="4.4" text-anchor="middle" fill="#555" stroke="#555" stroke-width="0.05" font-weight="normal" >10<tspan font-size="2.8" dy="-1.6">0</tspan></text>
<line x1="447.10" y1="161.20" x2="447.10" y2="163.00" stroke="#333" stroke-width="0.8"/>
<text x="447.70" y="167.40" font-size="4.4" text-anchor="middle" fill="#555" stroke="#555" stroke-width="0.05" font-weight="normal" >10<tspan font-size="2.8" dy="-1.6">1</tspan></text>
<line x1="469.90" y1="161.20" x2="469.90" y2="163.00" stroke="#333" stroke-width="0.8"/>
<text x="470.50" y="167.40" font-size="4.4" text-anchor="middle" fill="#555" stroke="#555" stroke-width="0.05" font-weight="normal" >10<tspan font-size="2.8" dy="-1.6">2</tspan></text>
<line x1="492.70" y1="161.20" x2="492.70" y2="163.00" stroke="#333" stroke-width="0.8"/>
<text x="493.30" y="167.40" font-size="4.4" text-anchor="middle" fill="#555" stroke="#555" stroke-width="0.05" font-weight="normal" >10<tspan font-size="2.8" dy="-1.6">3</tspan></text>
<line x1="515.50" y1="161.20" x2="515.50" y2="163.00" stroke="#333" stroke-width="0.8"/>
<text x="516.10" y="167.40" font-size="4.4" text-anchor="middle" fill="#555" stroke="#555" stroke-width="0.05" font-weight="normal" >10<tspan font-size="2.8" dy="-1.6">4</tspan></text>
<text x="0" y="0" font-size="6.6" text-anchor="middle" fill="#222" stroke="#222" stroke-width="0.08" transform="translate(413.00,132.00) rotate(-90)">% of Max</text>
<text x="430.90" y="128.00" font-size="9.3" text-anchor="start" fill="#141414" stroke="#141414" stroke-width="0.15" font-weight="normal" >Remission</text>
<path d="M463.00,234.40 C463.72,234.30 466.05,234.20 467.30,233.80 C468.55,233.41 469.55,232.91 470.50,232.01 C471.45,231.12 472.32,229.83 473.00,228.43 C473.68,227.04 474.10,226.15 474.60,223.66 C475.10,221.18 475.52,217.90 476.00,213.52 C476.48,209.15 477.03,202.48 477.50,197.41 C477.97,192.34 478.38,186.78 478.80,183.10 C479.22,179.42 479.60,175.34 480.00,175.34 C480.40,175.34 480.77,179.22 481.20,183.10 C481.63,186.97 482.13,193.54 482.60,198.61 C483.07,203.68 483.52,209.34 484.00,213.52 C484.48,217.70 484.92,220.88 485.50,223.66 C486.08,226.45 486.65,228.53 487.50,230.22 C488.35,231.91 489.52,233.11 490.60,233.80 C491.68,234.50 493.43,234.30 494.00,234.40" fill="none" stroke="#d03a52" stroke-width="1.15" stroke-linejoin="round"/>
<path d="M471.00,234.40 C471.60,234.30 473.43,234.10 474.60,233.80 C475.77,233.51 476.93,233.31 478.00,232.61 C479.07,231.91 480.08,231.12 481.00,229.63 C481.92,228.14 482.75,226.64 483.50,223.66 C484.25,220.68 484.92,216.11 485.50,211.73 C486.08,207.36 486.53,202.09 487.00,197.41 C487.47,192.74 487.92,187.27 488.30,183.69 C488.68,180.11 488.98,177.13 489.30,175.94 C489.62,174.75 489.88,176.63 490.20,176.53 C490.52,176.44 490.85,175.04 491.20,175.34 C491.55,175.64 491.92,176.44 492.30,178.32 C492.68,180.21 493.05,183.30 493.50,186.68 C493.95,190.06 494.50,194.83 495.00,198.61 C495.50,202.39 495.97,206.16 496.50,209.34 C497.03,212.53 497.60,215.31 498.20,217.70 C498.80,220.08 499.38,221.77 500.10,223.66 C500.82,225.55 501.68,227.64 502.50,229.03 C503.32,230.42 503.82,231.17 505.00,232.01 C506.18,232.86 508.43,233.70 509.60,234.10 C510.77,234.50 511.60,234.35 512.00,234.40" fill="none" stroke="#1f2675" stroke-width="1.15" stroke-linejoin="round"/>
<path d="M473.00,234.40 C473.58,234.30 475.33,234.10 476.50,233.80 C477.67,233.51 478.92,233.31 480.00,232.61 C481.08,231.91 482.13,231.02 483.00,229.63 C483.87,228.24 484.57,226.84 485.20,224.26 C485.83,221.67 486.30,217.90 486.80,214.12 C487.30,210.34 487.73,205.96 488.20,201.59 C488.67,197.22 489.17,191.55 489.60,187.87 C490.03,184.19 490.38,181.61 490.80,179.52 C491.22,177.43 491.68,175.64 492.10,175.34 C492.52,175.04 492.88,175.84 493.30,177.73 C493.72,179.62 494.15,183.39 494.60,186.68 C495.05,189.96 495.50,193.74 496.00,197.41 C496.50,201.09 497.05,205.37 497.60,208.75 C498.15,212.13 498.73,215.11 499.30,217.70 C499.87,220.28 500.30,222.27 501.00,224.26 C501.70,226.25 502.58,228.24 503.50,229.63 C504.42,231.02 505.42,231.86 506.50,232.61 C507.58,233.36 508.92,233.80 510.00,234.10 C511.08,234.40 512.50,234.35 513.00,234.40" fill="none" stroke="#2b7154" stroke-width="1.15" stroke-linejoin="round"/>
<rect x="424.50" y="170.30" width="91.00" height="64.10" fill="none" stroke="#2a2a2a" stroke-width="1.1"/>
<line x1="422.90" y1="234.40" x2="424.50" y2="234.40" stroke="#333" stroke-width="0.9"/>
<text x="421.60" y="236.40" font-size="4.75" text-anchor="end" fill="#3a3a3a" stroke="#3a3a3a" stroke-width="0.08" font-weight="normal" >0</text>
<line x1="422.90" y1="222.10" x2="424.50" y2="222.10" stroke="#333" stroke-width="0.9"/>
<text x="421.60" y="224.10" font-size="4.75" text-anchor="end" fill="#3a3a3a" stroke="#3a3a3a" stroke-width="0.08" font-weight="normal" >20</text>
<line x1="422.90" y1="209.80" x2="424.50" y2="209.80" stroke="#333" stroke-width="0.9"/>
<text x="421.60" y="211.80" font-size="4.75" text-anchor="end" fill="#3a3a3a" stroke="#3a3a3a" stroke-width="0.08" font-weight="normal" >40</text>
<line x1="422.90" y1="197.50" x2="424.50" y2="197.50" stroke="#333" stroke-width="0.9"/>
<text x="421.60" y="199.50" font-size="4.75" text-anchor="end" fill="#3a3a3a" stroke="#3a3a3a" stroke-width="0.08" font-weight="normal" >60</text>
<line x1="422.90" y1="185.20" x2="424.50" y2="185.20" stroke="#333" stroke-width="0.9"/>
<text x="421.60" y="187.20" font-size="4.75" text-anchor="end" fill="#3a3a3a" stroke="#3a3a3a" stroke-width="0.08" font-weight="normal" >80</text>
<line x1="422.90" y1="172.90" x2="424.50" y2="172.90" stroke="#333" stroke-width="0.9"/>
<text x="421.60" y="174.90" font-size="4.75" text-anchor="end" fill="#3a3a3a" stroke="#3a3a3a" stroke-width="0.08" font-weight="normal" >100</text>
<line x1="431.35" y1="234.40" x2="431.35" y2="235.40" stroke="#444" stroke-width="0.6"/>
<line x1="435.35" y1="234.40" x2="435.35" y2="235.40" stroke="#444" stroke-width="0.6"/>
<line x1="438.20" y1="234.40" x2="438.20" y2="235.40" stroke="#444" stroke-width="0.6"/>
<line x1="440.40" y1="234.40" x2="440.40" y2="235.40" stroke="#444" stroke-width="0.6"/>
<line x1="442.20" y1="234.40" x2="442.20" y2="235.40" stroke="#444" stroke-width="0.6"/>
<line x1="443.73" y1="234.40" x2="443.73" y2="235.40" stroke="#444" stroke-width="0.6"/>
<line x1="445.05" y1="234.40" x2="445.05" y2="235.40" stroke="#444" stroke-width="0.6"/>
<line x1="446.21" y1="234.40" x2="446.21" y2="235.40" stroke="#444" stroke-width="0.6"/>
<line x1="454.10" y1="234.40" x2="454.10" y2="235.40" stroke="#444" stroke-width="0.6"/>
<line x1="458.10" y1="234.40" x2="458.10" y2="235.40" stroke="#444" stroke-width="0.6"/>
<line x1="460.95" y1="234.40" x2="460.95" y2="235.40" stroke="#444" stroke-width="0.6"/>
<line x1="463.15" y1="234.40" x2="463.15" y2="235.40" stroke="#444" stroke-width="0.6"/>
<line x1="464.95" y1="234.40" x2="464.95" y2="235.40" stroke="#444" stroke-width="0.6"/>
<line x1="466.48" y1="234.40" x2="466.48" y2="235.40" stroke="#444" stroke-width="0.6"/>
<line x1="467.80" y1="234.40" x2="467.80" y2="235.40" stroke="#444" stroke-width="0.6"/>
<line x1="468.96" y1="234.40" x2="468.96" y2="235.40" stroke="#444" stroke-width="0.6"/>
<line x1="476.85" y1="234.40" x2="476.85" y2="235.40" stroke="#444" stroke-width="0.6"/>
<line x1="480.85" y1="234.40" x2="480.85" y2="235.40" stroke="#444" stroke-width="0.6"/>
<line x1="483.70" y1="234.40" x2="483.70" y2="235.40" stroke="#444" stroke-width="0.6"/>
<line x1="485.90" y1="234.40" x2="485.90" y2="235.40" stroke="#444" stroke-width="0.6"/>
<line x1="487.70" y1="234.40" x2="487.70" y2="235.40" stroke="#444" stroke-width="0.6"/>
<line x1="489.23" y1="234.40" x2="489.23" y2="235.40" stroke="#444" stroke-width="0.6"/>
<line x1="490.55" y1="234.40" x2="490.55" y2="235.40" stroke="#444" stroke-width="0.6"/>
<line x1="491.71" y1="234.40" x2="491.71" y2="235.40" stroke="#444" stroke-width="0.6"/>
<line x1="499.60" y1="234.40" x2="499.60" y2="235.40" stroke="#444" stroke-width="0.6"/>
<line x1="503.60" y1="234.40" x2="503.60" y2="235.40" stroke="#444" stroke-width="0.6"/>
<line x1="506.45" y1="234.40" x2="506.45" y2="235.40" stroke="#444" stroke-width="0.6"/>
<line x1="508.65" y1="234.40" x2="508.65" y2="235.40" stroke="#444" stroke-width="0.6"/>
<line x1="510.45" y1="234.40" x2="510.45" y2="235.40" stroke="#444" stroke-width="0.6"/>
<line x1="511.98" y1="234.40" x2="511.98" y2="235.40" stroke="#444" stroke-width="0.6"/>
<line x1="513.30" y1="234.40" x2="513.30" y2="235.40" stroke="#444" stroke-width="0.6"/>
<line x1="514.46" y1="234.40" x2="514.46" y2="235.40" stroke="#444" stroke-width="0.6"/>
<line x1="424.50" y1="234.40" x2="424.50" y2="236.20" stroke="#333" stroke-width="0.8"/>
<text x="425.10" y="240.60" font-size="4.4" text-anchor="middle" fill="#555" stroke="#555" stroke-width="0.05" font-weight="normal" >10<tspan font-size="2.8" dy="-1.6">0</tspan></text>
<line x1="447.25" y1="234.40" x2="447.25" y2="236.20" stroke="#333" stroke-width="0.8"/>
<text x="447.85" y="240.60" font-size="4.4" text-anchor="middle" fill="#555" stroke="#555" stroke-width="0.05" font-weight="normal" >10<tspan font-size="2.8" dy="-1.6">1</tspan></text>
<line x1="470.00" y1="234.40" x2="470.00" y2="236.20" stroke="#333" stroke-width="0.8"/>
<text x="470.60" y="240.60" font-size="4.4" text-anchor="middle" fill="#555" stroke="#555" stroke-width="0.05" font-weight="normal" >10<tspan font-size="2.8" dy="-1.6">2</tspan></text>
<line x1="492.75" y1="234.40" x2="492.75" y2="236.20" stroke="#333" stroke-width="0.8"/>
<text x="493.35" y="240.60" font-size="4.4" text-anchor="middle" fill="#555" stroke="#555" stroke-width="0.05" font-weight="normal" >10<tspan font-size="2.8" dy="-1.6">3</tspan></text>
<line x1="515.50" y1="234.40" x2="515.50" y2="236.20" stroke="#333" stroke-width="0.8"/>
<text x="516.10" y="240.60" font-size="4.4" text-anchor="middle" fill="#555" stroke="#555" stroke-width="0.05" font-weight="normal" >10<tspan font-size="2.8" dy="-1.6">4</tspan></text>
<text x="0" y="0" font-size="6.6" text-anchor="middle" fill="#222" stroke="#222" stroke-width="0.08" transform="translate(413.20,204.95) rotate(-90)">% of Max</text>
<text x="431.10" y="200.20" font-size="9.3" text-anchor="start" fill="#141414" stroke="#141414" stroke-width="0.15" font-weight="normal" >Relapse</text>
<line x1="426.50" y1="241.80" x2="505.00" y2="241.80" stroke="#111" stroke-width="1.3"/>
<polygon points="502.20,238.10 514.00,241.80 502.20,245.50 504.20,241.80" fill="#111"/>
<text x="466.90" y="249.60" font-size="7.8" text-anchor="middle" fill="#1a1a1a" stroke="#1a1a1a" stroke-width="0.15" font-weight="normal" >CD47</text>
<text x="282.20" y="11.60" font-size="13.5" text-anchor="start" fill="#0a0a0a" stroke="#0a0a0a" stroke-width="0" font-weight="bold" >B</text>
<text x="407.40" y="11.60" font-size="13.5" text-anchor="start" fill="#0a0a0a" stroke="#0a0a0a" stroke-width="0" font-weight="bold" >D</text>
<text x="8.60" y="323.60" font-size="13.5" text-anchor="start" fill="#0a0a0a" stroke="#0a0a0a" stroke-width="0" font-weight="bold" >C</text>
<line x1="36.30" y1="320.80" x2="36.30" y2="475.00" stroke="#333" stroke-width="1.2"/>
<line x1="35.70" y1="470.50" x2="188.30" y2="470.50" stroke="#333" stroke-width="1.2"/>
<line x1="33.90" y1="470.50" x2="36.30" y2="470.50" stroke="#333" stroke-width="1.0"/>
<text x="32.30" y="472.70" font-size="6.2" text-anchor="end" fill="#4a4a4a" stroke="#4a4a4a" stroke-width="0.05" font-weight="normal" >0</text>
<line x1="33.90" y1="449.18" x2="36.30" y2="449.18" stroke="#333" stroke-width="1.0"/>
<text x="32.30" y="451.38" font-size="6.2" text-anchor="end" fill="#4a4a4a" stroke="#4a4a4a" stroke-width="0.05" font-weight="normal" >0.2</text>
<line x1="33.90" y1="427.86" x2="36.30" y2="427.86" stroke="#333" stroke-width="1.0"/>
<text x="32.30" y="430.06" font-size="6.2" text-anchor="end" fill="#4a4a4a" stroke="#4a4a4a" stroke-width="0.05" font-weight="normal" >0.4</text>
<line x1="33.90" y1="406.54" x2="36.30" y2="406.54" stroke="#333" stroke-width="1.0"/>
<text x="32.30" y="408.74" font-size="6.2" text-anchor="end" fill="#4a4a4a" stroke="#4a4a4a" stroke-width="0.05" font-weight="normal" >0.6</text>
<line x1="33.90" y1="385.22" x2="36.30" y2="385.22" stroke="#333" stroke-width="1.0"/>
<text x="32.30" y="387.42" font-size="6.2" text-anchor="end" fill="#4a4a4a" stroke="#4a4a4a" stroke-width="0.05" font-weight="normal" >0.8</text>
<line x1="33.90" y1="363.90" x2="36.30" y2="363.90" stroke="#333" stroke-width="1.0"/>
<text x="32.30" y="366.10" font-size="6.2" text-anchor="end" fill="#4a4a4a" stroke="#4a4a4a" stroke-width="0.05" font-weight="normal" >1.0</text>
<line x1="33.90" y1="342.58" x2="36.30" y2="342.58" stroke="#333" stroke-width="1.0"/>
<text x="32.30" y="344.78" font-size="6.2" text-anchor="end" fill="#4a4a4a" stroke="#4a4a4a" stroke-width="0.05" font-weight="normal" >1.2</text>
<line x1="33.90" y1="321.26" x2="36.30" y2="321.26" stroke="#333" stroke-width="1.0"/>
<text x="32.30" y="323.46" font-size="6.2" text-anchor="end" fill="#4a4a4a" stroke="#4a4a4a" stroke-width="0.05" font-weight="normal" >1.4</text>
<line x1="66.90" y1="470.50" x2="66.90" y2="474.30" stroke="#333" stroke-width="1.0"/>
<line x1="97.40" y1="470.50" x2="97.40" y2="474.30" stroke="#333" stroke-width="1.0"/>
<line x1="127.90" y1="470.50" x2="127.90" y2="474.30" stroke="#333" stroke-width="1.0"/>
<line x1="157.50" y1="470.50" x2="157.50" y2="474.30" stroke="#333" stroke-width="1.0"/>
<line x1="187.80" y1="470.50" x2="187.80" y2="474.30" stroke="#333" stroke-width="1.0"/>
<text x="51.30" y="477.60" font-size="7.1" text-anchor="middle" fill="#141414" stroke="#141414" stroke-width="0.15" font-weight="normal" >HSC</text>
<text x="82.00" y="477.60" font-size="7.1" text-anchor="middle" fill="#141414" stroke="#141414" stroke-width="0.15" font-weight="normal" >CMP</text>
<text x="112.80" y="477.60" font-size="7.1" text-anchor="middle" fill="#141414" stroke="#141414" stroke-width="0.15" font-weight="normal" >GMP</text>
<text x="142.80" y="477.60" font-size="7.1" text-anchor="middle" fill="#141414" stroke="#141414" stroke-width="0.15" font-weight="normal" >MEP</text>
<text x="172.60" y="477.60" font-size="7.1" text-anchor="middle" fill="#141414" stroke="#141414" stroke-width="0.15" font-weight="normal" >bulk</text>
<text x="0" y="0" font-size="8" text-anchor="middle" fill="#262626" stroke="#262626" stroke-width="0.12" transform="translate(19.9,393.5) rotate(-90)">CD47 expression index</text>
<rect x="44.45" y="371.25" width="4.5" height="4.5" fill="#fff" stroke="#555" stroke-width="1.0"/>
<rect x="52.80" y="368.60" width="5.2" height="5.2" fill="#141414"/>
<circle cx="46.70" cy="414.40" r="2.75" fill="#bc1230" stroke="#1a1a1a" stroke-width="0.85"/>
<circle cx="55.20" cy="415.60" r="2.75" fill="#2a88cc" stroke="#1a1a1a" stroke-width="0.85"/>
<circle cx="46.70" cy="428.50" r="2.75" fill="#127340" stroke="#1a1a1a" stroke-width="0.85"/>
<circle cx="55.20" cy="431.90" r="2.75" fill="#eee232" stroke="#1a1a1a" stroke-width="0.85"/>
<rect x="74.65" y="350.05" width="4.5" height="4.5" fill="#fff" stroke="#555" stroke-width="1.0"/>
<rect x="74.30" y="360.70" width="5.2" height="5.2" fill="#141414"/>
<circle cx="76.90" cy="371.20" r="2.75" fill="#bc1230" stroke="#1a1a1a" stroke-width="0.85"/>
<circle cx="86.20" cy="353.80" r="2.75" fill="#127340" stroke="#1a1a1a" stroke-width="0.85"/>
<circle cx="86.20" cy="367.30" r="2.75" fill="#eee232" stroke="#1a1a1a" stroke-width="0.85"/>
<circle cx="86.20" cy="374.40" r="2.75" fill="#2a88cc" stroke="#1a1a1a" stroke-width="0.85"/>
<circle cx="108.70" cy="345.40" r="2.75" fill="#bc1230" stroke="#1a1a1a" stroke-width="0.85"/>
<circle cx="116.50" cy="349.60" r="2.75" fill="#127340" stroke="#1a1a1a" stroke-width="0.85"/>
<rect x="106.45" y="351.45" width="4.5" height="4.5" fill="#fff" stroke="#555" stroke-width="1.0"/>
<rect x="106.10" y="363.00" width="5.2" height="5.2" fill="#141414"/>
<circle cx="116.50" cy="363.70" r="2.75" fill="#eee232" stroke="#1a1a1a" stroke-width="0.85"/>
<circle cx="116.50" cy="370.00" r="2.75" fill="#2a88cc" stroke="#1a1a1a" stroke-width="0.85"/>
<rect x="139.30" y="338.00" width="5.2" height="5.2" fill="#141414"/>
<circle cx="146.20" cy="347.90" r="2.75" fill="#2a88cc" stroke="#1a1a1a" stroke-width="0.85"/>
<circle cx="138.10" cy="351.20" r="2.75" fill="#bc1230" stroke="#1a1a1a" stroke-width="0.85"/>
<circle cx="146.20" cy="353.70" r="2.75" fill="#eee232" stroke="#1a1a1a" stroke-width="0.85"/>
<rect x="135.85" y="360.85" width="4.5" height="4.5" fill="#fff" stroke="#555" stroke-width="1.0"/>
<circle cx="146.20" cy="367.90" r="2.75" fill="#127340" stroke="#1a1a1a" stroke-width="0.85"/>
<rect x="170.70" y="341.20" width="5.2" height="5.2" fill="#141414"/>
<rect x="164.05" y="348.55" width="4.5" height="4.5" fill="#fff" stroke="#555" stroke-width="1.0"/>
<circle cx="173.30" cy="353.50" r="2.75" fill="#bc1230" stroke="#1a1a1a" stroke-width="0.85"/>
<circle cx="180.00" cy="351.20" r="2.75" fill="#eee232" stroke="#1a1a1a" stroke-width="0.85"/>
<circle cx="166.30" cy="357.90" r="2.75" fill="#127340" stroke="#1a1a1a" stroke-width="0.85"/>
<circle cx="173.30" cy="362.30" r="2.75" fill="#2a88cc" stroke="#1a1a1a" stroke-width="0.85"/>
<rect x="110.6" y="396.7" width="79.8" height="53.3" fill="#fff" stroke="#333" stroke-width="1.0"/>
<circle cx="116.20" cy="402.00" r="2.25" fill="#bc1230" stroke="#1a1a1a" stroke-width="0.85"/>
<text x="124.00" y="404.30" font-size="6.55" text-anchor="start" fill="#1e1e1e" stroke="#1e1e1e" stroke-width="0.07" font-weight="normal" >HLH UPN 1</text>
<circle cx="116.20" cy="410.55" r="2.25" fill="#127340" stroke="#1a1a1a" stroke-width="0.85"/>
<text x="124.00" y="412.85" font-size="6.55" text-anchor="start" fill="#1e1e1e" stroke="#1e1e1e" stroke-width="0.07" font-weight="normal" >HLH UPN 4</text>
<circle cx="116.20" cy="419.10" r="2.25" fill="#2a88cc" stroke="#1a1a1a" stroke-width="0.85"/>
<text x="124.00" y="421.40" font-size="6.55" text-anchor="start" fill="#1e1e1e" stroke="#1e1e1e" stroke-width="0.07" font-weight="normal" >HLH UPN 9</text>
<circle cx="116.20" cy="427.65" r="2.25" fill="#eee232" stroke="#1a1a1a" stroke-width="0.85"/>
<text x="124.00" y="429.95" font-size="6.55" text-anchor="start" fill="#1e1e1e" stroke="#1e1e1e" stroke-width="0.07" font-weight="normal" >HLH UPN 10</text>
<rect x="114.20" y="434.20" width="4.0" height="4.0" fill="#fff" stroke="#555" stroke-width="1.0"/>
<text x="124.00" y="438.50" font-size="6.55" text-anchor="start" fill="#1e1e1e" stroke="#1e1e1e" stroke-width="0.07" font-weight="normal" >normal bone marrow1</text>
<rect x="113.95" y="442.50" width="4.5" height="4.5" fill="#141414"/>
<text x="124.00" y="447.05" font-size="6.55" text-anchor="start" fill="#1e1e1e" stroke="#1e1e1e" stroke-width="0.07" font-weight="normal" >normal bone marrow2</text>
</svg>
</body></html>
